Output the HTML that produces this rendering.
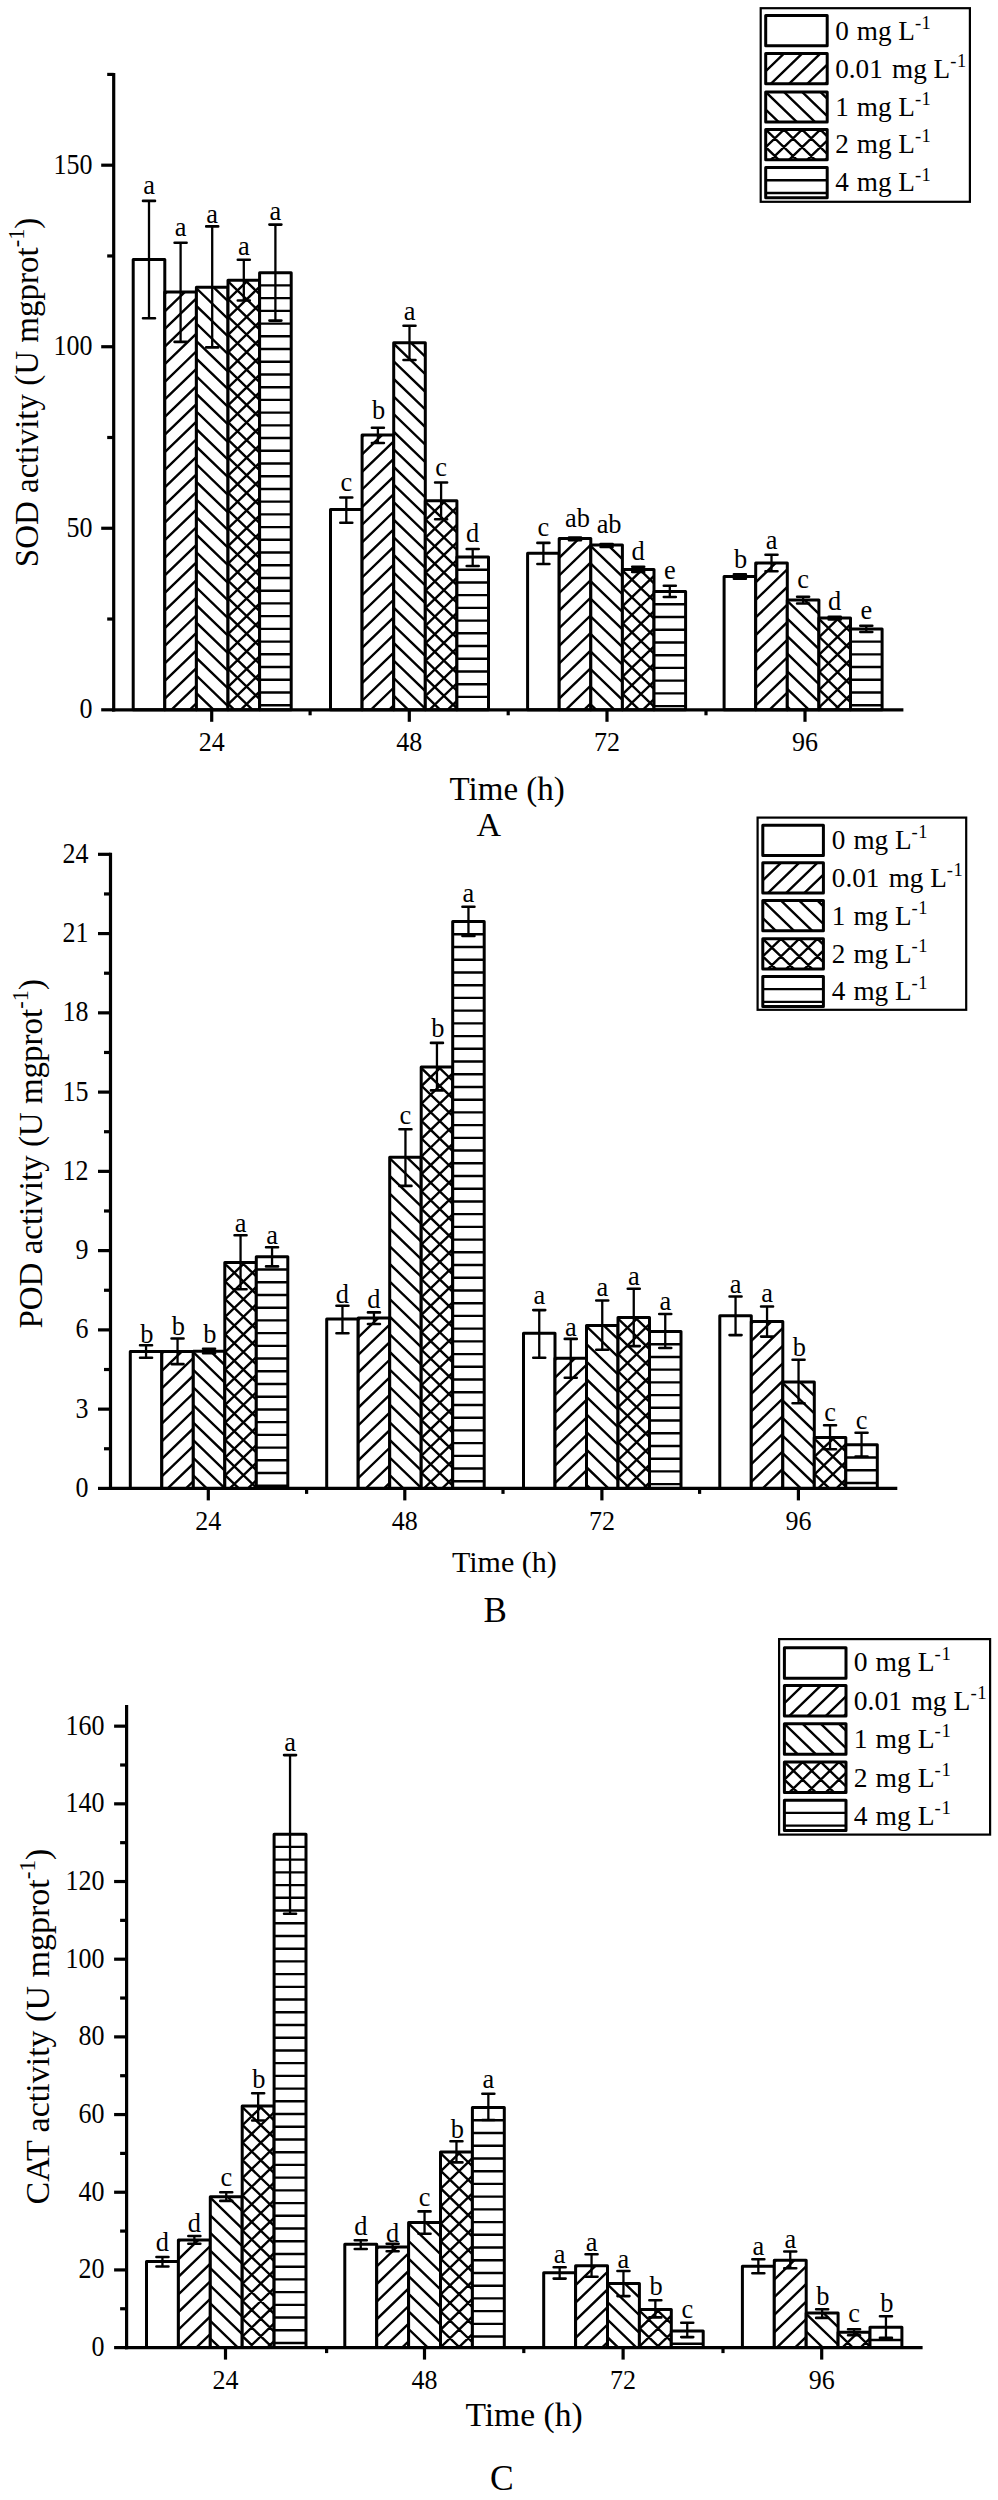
<!DOCTYPE html>
<html><head><meta charset="utf-8"><style>html,body{margin:0;padding:0;background:#fff;}svg{display:block;}</style></head>
<body><svg width="998" height="2500" viewBox="0 0 998 2500" font-family='"Liberation Serif", serif' fill="#000"><defs><clipPath id="c1"><rect x="164.80" y="292.00" width="31.60" height="417.80"/></clipPath><clipPath id="c2"><rect x="196.40" y="287.30" width="31.60" height="422.50"/></clipPath><clipPath id="c3"><rect x="228.00" y="280.30" width="31.60" height="429.50"/></clipPath><clipPath id="c4"><rect x="259.60" y="272.70" width="31.60" height="437.10"/></clipPath><clipPath id="c5"><rect x="362.10" y="434.90" width="31.60" height="274.90"/></clipPath><clipPath id="c6"><rect x="393.70" y="342.70" width="31.60" height="367.10"/></clipPath><clipPath id="c7"><rect x="425.30" y="500.80" width="31.60" height="209.00"/></clipPath><clipPath id="c8"><rect x="456.90" y="557.00" width="31.60" height="152.80"/></clipPath><clipPath id="c9"><rect x="559.20" y="538.40" width="31.60" height="171.40"/></clipPath><clipPath id="c10"><rect x="590.80" y="545.10" width="31.60" height="164.70"/></clipPath><clipPath id="c11"><rect x="622.40" y="569.40" width="31.60" height="140.40"/></clipPath><clipPath id="c12"><rect x="654.00" y="591.60" width="31.60" height="118.20"/></clipPath><clipPath id="c13"><rect x="755.70" y="562.90" width="31.60" height="146.90"/></clipPath><clipPath id="c14"><rect x="787.30" y="599.90" width="31.60" height="109.90"/></clipPath><clipPath id="c15"><rect x="818.90" y="617.90" width="31.60" height="91.90"/></clipPath><clipPath id="c16"><rect x="850.50" y="628.90" width="31.60" height="80.90"/></clipPath><clipPath id="c17"><rect x="765.70" y="53.60" width="61.50" height="30.10"/></clipPath><clipPath id="c18"><rect x="765.70" y="91.90" width="61.50" height="30.10"/></clipPath><clipPath id="c19"><rect x="765.70" y="129.60" width="61.50" height="30.10"/></clipPath><clipPath id="c20"><rect x="765.70" y="167.60" width="61.50" height="30.10"/></clipPath><clipPath id="c21"><rect x="161.80" y="1351.50" width="31.50" height="136.90"/></clipPath><clipPath id="c22"><rect x="193.30" y="1351.20" width="31.50" height="137.20"/></clipPath><clipPath id="c23"><rect x="224.80" y="1262.60" width="31.50" height="225.80"/></clipPath><clipPath id="c24"><rect x="256.30" y="1256.80" width="31.50" height="231.60"/></clipPath><clipPath id="c25"><rect x="358.20" y="1318.00" width="31.50" height="170.40"/></clipPath><clipPath id="c26"><rect x="389.70" y="1157.30" width="31.50" height="331.10"/></clipPath><clipPath id="c27"><rect x="421.20" y="1066.90" width="31.50" height="421.50"/></clipPath><clipPath id="c28"><rect x="452.70" y="921.60" width="31.50" height="566.80"/></clipPath><clipPath id="c29"><rect x="555.00" y="1358.20" width="31.50" height="130.20"/></clipPath><clipPath id="c30"><rect x="586.50" y="1325.40" width="31.50" height="163.00"/></clipPath><clipPath id="c31"><rect x="618.00" y="1317.60" width="31.50" height="170.80"/></clipPath><clipPath id="c32"><rect x="649.50" y="1331.50" width="31.50" height="156.90"/></clipPath><clipPath id="c33"><rect x="751.30" y="1321.60" width="31.50" height="166.80"/></clipPath><clipPath id="c34"><rect x="782.80" y="1382.00" width="31.50" height="106.40"/></clipPath><clipPath id="c35"><rect x="814.30" y="1437.60" width="31.50" height="50.80"/></clipPath><clipPath id="c36"><rect x="845.80" y="1444.80" width="31.50" height="43.60"/></clipPath><clipPath id="c37"><rect x="762.80" y="862.80" width="60.60" height="30.20"/></clipPath><clipPath id="c38"><rect x="762.80" y="900.60" width="60.60" height="30.20"/></clipPath><clipPath id="c39"><rect x="762.80" y="938.80" width="60.60" height="30.20"/></clipPath><clipPath id="c40"><rect x="762.80" y="976.40" width="60.60" height="30.20"/></clipPath><clipPath id="c41"><rect x="178.40" y="2239.90" width="31.90" height="107.70"/></clipPath><clipPath id="c42"><rect x="210.30" y="2196.70" width="31.90" height="150.90"/></clipPath><clipPath id="c43"><rect x="242.20" y="2106.10" width="31.90" height="241.50"/></clipPath><clipPath id="c44"><rect x="274.10" y="1834.20" width="31.90" height="513.40"/></clipPath><clipPath id="c45"><rect x="376.70" y="2247.10" width="31.90" height="100.50"/></clipPath><clipPath id="c46"><rect x="408.60" y="2222.40" width="31.90" height="125.20"/></clipPath><clipPath id="c47"><rect x="440.50" y="2152.00" width="31.90" height="195.60"/></clipPath><clipPath id="c48"><rect x="472.40" y="2107.60" width="31.90" height="240.00"/></clipPath><clipPath id="c49"><rect x="575.60" y="2265.70" width="31.90" height="81.90"/></clipPath><clipPath id="c50"><rect x="607.50" y="2283.40" width="31.90" height="64.20"/></clipPath><clipPath id="c51"><rect x="639.40" y="2309.50" width="31.90" height="38.10"/></clipPath><clipPath id="c52"><rect x="671.30" y="2331.00" width="31.90" height="16.60"/></clipPath><clipPath id="c53"><rect x="774.30" y="2260.20" width="31.90" height="87.40"/></clipPath><clipPath id="c54"><rect x="806.20" y="2312.90" width="31.90" height="34.70"/></clipPath><clipPath id="c55"><rect x="838.10" y="2332.30" width="31.90" height="15.30"/></clipPath><clipPath id="c56"><rect x="870.00" y="2327.30" width="31.90" height="20.30"/></clipPath><clipPath id="c57"><rect x="784.40" y="1685.60" width="61.60" height="30.40"/></clipPath><clipPath id="c58"><rect x="784.40" y="1723.80" width="61.60" height="30.40"/></clipPath><clipPath id="c59"><rect x="784.40" y="1762.00" width="61.60" height="30.40"/></clipPath><clipPath id="c60"><rect x="784.40" y="1800.20" width="61.60" height="30.40"/></clipPath></defs><rect width="998" height="2500" fill="white"/><rect x="133.20" y="259.50" width="31.60" height="450.30" fill="white"/><rect x="133.20" y="259.50" width="31.60" height="450.30" fill="none" stroke="#000" stroke-width="3.0" stroke-linejoin="round"/><rect x="164.80" y="292.00" width="31.60" height="417.80" fill="white"/><path clip-path="url(#c1)" d="M164.80 258.60L196.40 228.04M164.80 276.20L196.40 245.64M164.80 293.80L196.40 263.24M164.80 311.40L196.40 280.84M164.80 329.00L196.40 298.44M164.80 346.60L196.40 316.04M164.80 364.20L196.40 333.64M164.80 381.80L196.40 351.24M164.80 399.40L196.40 368.84M164.80 417.00L196.40 386.44M164.80 434.60L196.40 404.04M164.80 452.20L196.40 421.64M164.80 469.80L196.40 439.24M164.80 487.40L196.40 456.84M164.80 505.00L196.40 474.44M164.80 522.60L196.40 492.04M164.80 540.20L196.40 509.64M164.80 557.80L196.40 527.24M164.80 575.40L196.40 544.84M164.80 593.00L196.40 562.44M164.80 610.60L196.40 580.04M164.80 628.20L196.40 597.64M164.80 645.80L196.40 615.24M164.80 663.40L196.40 632.84M164.80 681.00L196.40 650.44M164.80 698.60L196.40 668.04M164.80 716.20L196.40 685.64M164.80 733.80L196.40 703.24M164.80 751.40L196.40 720.84M164.80 769.00L196.40 738.44" stroke="#000" stroke-width="2.4" fill="none"/><rect x="164.80" y="292.00" width="31.60" height="417.80" fill="none" stroke="#000" stroke-width="3.0" stroke-linejoin="round"/><rect x="196.40" y="287.30" width="31.60" height="422.50" fill="white"/><path clip-path="url(#c2)" d="M196.40 217.90L228.00 248.46M196.40 235.50L228.00 266.06M196.40 253.10L228.00 283.66M196.40 270.70L228.00 301.26M196.40 288.30L228.00 318.86M196.40 305.90L228.00 336.46M196.40 323.50L228.00 354.06M196.40 341.10L228.00 371.66M196.40 358.70L228.00 389.26M196.40 376.30L228.00 406.86M196.40 393.90L228.00 424.46M196.40 411.50L228.00 442.06M196.40 429.10L228.00 459.66M196.40 446.70L228.00 477.26M196.40 464.30L228.00 494.86M196.40 481.90L228.00 512.46M196.40 499.50L228.00 530.06M196.40 517.10L228.00 547.66M196.40 534.70L228.00 565.26M196.40 552.30L228.00 582.86M196.40 569.90L228.00 600.46M196.40 587.50L228.00 618.06M196.40 605.10L228.00 635.66M196.40 622.70L228.00 653.26M196.40 640.30L228.00 670.86M196.40 657.90L228.00 688.46M196.40 675.50L228.00 706.06M196.40 693.10L228.00 723.66M196.40 710.70L228.00 741.26M196.40 728.30L228.00 758.86M196.40 745.90L228.00 776.46" stroke="#000" stroke-width="2.4" fill="none"/><rect x="196.40" y="287.30" width="31.60" height="422.50" fill="none" stroke="#000" stroke-width="3.0" stroke-linejoin="round"/><rect x="228.00" y="280.30" width="31.60" height="429.50" fill="white"/><path clip-path="url(#c3)" d="M228.00 246.90L259.60 216.34M228.00 264.50L259.60 233.94M228.00 282.10L259.60 251.54M228.00 299.70L259.60 269.14M228.00 317.30L259.60 286.74M228.00 334.90L259.60 304.34M228.00 352.50L259.60 321.94M228.00 370.10L259.60 339.54M228.00 387.70L259.60 357.14M228.00 405.30L259.60 374.74M228.00 422.90L259.60 392.34M228.00 440.50L259.60 409.94M228.00 458.10L259.60 427.54M228.00 475.70L259.60 445.14M228.00 493.30L259.60 462.74M228.00 510.90L259.60 480.34M228.00 528.50L259.60 497.94M228.00 546.10L259.60 515.54M228.00 563.70L259.60 533.14M228.00 581.30L259.60 550.74M228.00 598.90L259.60 568.34M228.00 616.50L259.60 585.94M228.00 634.10L259.60 603.54M228.00 651.70L259.60 621.14M228.00 669.30L259.60 638.74M228.00 686.90L259.60 656.34M228.00 704.50L259.60 673.94M228.00 722.10L259.60 691.54M228.00 739.70L259.60 709.14M228.00 757.30L259.60 726.74M228.00 774.90L259.60 744.34M228.00 210.90L259.60 241.46M228.00 228.50L259.60 259.06M228.00 246.10L259.60 276.66M228.00 263.70L259.60 294.26M228.00 281.30L259.60 311.86M228.00 298.90L259.60 329.46M228.00 316.50L259.60 347.06M228.00 334.10L259.60 364.66M228.00 351.70L259.60 382.26M228.00 369.30L259.60 399.86M228.00 386.90L259.60 417.46M228.00 404.50L259.60 435.06M228.00 422.10L259.60 452.66M228.00 439.70L259.60 470.26M228.00 457.30L259.60 487.86M228.00 474.90L259.60 505.46M228.00 492.50L259.60 523.06M228.00 510.10L259.60 540.66M228.00 527.70L259.60 558.26M228.00 545.30L259.60 575.86M228.00 562.90L259.60 593.46M228.00 580.50L259.60 611.06M228.00 598.10L259.60 628.66M228.00 615.70L259.60 646.26M228.00 633.30L259.60 663.86M228.00 650.90L259.60 681.46M228.00 668.50L259.60 699.06M228.00 686.10L259.60 716.66M228.00 703.70L259.60 734.26M228.00 721.30L259.60 751.86M228.00 738.90L259.60 769.46" stroke="#000" stroke-width="2.4" fill="none"/><rect x="228.00" y="280.30" width="31.60" height="429.50" fill="none" stroke="#000" stroke-width="3.0" stroke-linejoin="round"/><rect x="259.60" y="272.70" width="31.60" height="437.10" fill="white"/><path clip-path="url(#c4)" d="M259.60 285.42H291.20M259.60 298.14H291.20M259.60 310.86H291.20M259.60 323.58H291.20M259.60 336.30H291.20M259.60 349.02H291.20M259.60 361.74H291.20M259.60 374.46H291.20M259.60 387.18H291.20M259.60 399.90H291.20M259.60 412.62H291.20M259.60 425.34H291.20M259.60 438.06H291.20M259.60 450.78H291.20M259.60 463.50H291.20M259.60 476.22H291.20M259.60 488.94H291.20M259.60 501.66H291.20M259.60 514.38H291.20M259.60 527.10H291.20M259.60 539.82H291.20M259.60 552.54H291.20M259.60 565.26H291.20M259.60 577.98H291.20M259.60 590.70H291.20M259.60 603.42H291.20M259.60 616.14H291.20M259.60 628.86H291.20M259.60 641.58H291.20M259.60 654.30H291.20M259.60 667.02H291.20M259.60 679.74H291.20M259.60 692.46H291.20M259.60 705.18H291.20M259.60 717.90H291.20" stroke="#000" stroke-width="2.4" fill="none"/><rect x="259.60" y="272.70" width="31.60" height="437.10" fill="none" stroke="#000" stroke-width="3.0" stroke-linejoin="round"/><path d="M149.00 200.90V318.30" stroke="#000" stroke-width="2.3"/><path d="M143.00 200.90H155.00M143.00 318.30H155.00" stroke="#000" stroke-width="2.6" stroke-linecap="round"/><text transform="translate(149.00 194.00) scale(1.015 1.075)" font-size="26" text-anchor="middle" >a</text><path d="M180.60 242.70V341.90" stroke="#000" stroke-width="2.3"/><path d="M174.60 242.70H186.60M174.60 341.90H186.60" stroke="#000" stroke-width="2.6" stroke-linecap="round"/><text transform="translate(180.60 236.40) scale(1.015 1.075)" font-size="26" text-anchor="middle" >a</text><path d="M212.20 226.40V347.40" stroke="#000" stroke-width="2.3"/><path d="M206.20 226.40H218.20M206.20 347.40H218.20" stroke="#000" stroke-width="2.6" stroke-linecap="round"/><text transform="translate(212.20 222.60) scale(1.015 1.075)" font-size="26" text-anchor="middle" >a</text><path d="M243.80 259.70V300.50" stroke="#000" stroke-width="2.3"/><path d="M237.80 259.70H249.80M237.80 300.50H249.80" stroke="#000" stroke-width="2.6" stroke-linecap="round"/><text transform="translate(243.80 255.20) scale(1.015 1.075)" font-size="26" text-anchor="middle" >a</text><path d="M275.40 224.60V320.60" stroke="#000" stroke-width="2.3"/><path d="M269.40 224.60H281.40M269.40 320.60H281.40" stroke="#000" stroke-width="2.6" stroke-linecap="round"/><text transform="translate(275.40 220.10) scale(1.015 1.075)" font-size="26" text-anchor="middle" >a</text><rect x="330.50" y="509.60" width="31.60" height="200.20" fill="white"/><rect x="330.50" y="509.60" width="31.60" height="200.20" fill="none" stroke="#000" stroke-width="3.0" stroke-linejoin="round"/><rect x="362.10" y="434.90" width="31.60" height="274.90" fill="white"/><path clip-path="url(#c5)" d="M362.10 401.50L393.70 370.94M362.10 419.10L393.70 388.54M362.10 436.70L393.70 406.14M362.10 454.30L393.70 423.74M362.10 471.90L393.70 441.34M362.10 489.50L393.70 458.94M362.10 507.10L393.70 476.54M362.10 524.70L393.70 494.14M362.10 542.30L393.70 511.74M362.10 559.90L393.70 529.34M362.10 577.50L393.70 546.94M362.10 595.10L393.70 564.54M362.10 612.70L393.70 582.14M362.10 630.30L393.70 599.74M362.10 647.90L393.70 617.34M362.10 665.50L393.70 634.94M362.10 683.10L393.70 652.54M362.10 700.70L393.70 670.14M362.10 718.30L393.70 687.74M362.10 735.90L393.70 705.34M362.10 753.50L393.70 722.94M362.10 771.10L393.70 740.54" stroke="#000" stroke-width="2.4" fill="none"/><rect x="362.10" y="434.90" width="31.60" height="274.90" fill="none" stroke="#000" stroke-width="3.0" stroke-linejoin="round"/><rect x="393.70" y="342.70" width="31.60" height="367.10" fill="white"/><path clip-path="url(#c6)" d="M393.70 273.30L425.30 303.86M393.70 290.90L425.30 321.46M393.70 308.50L425.30 339.06M393.70 326.10L425.30 356.66M393.70 343.70L425.30 374.26M393.70 361.30L425.30 391.86M393.70 378.90L425.30 409.46M393.70 396.50L425.30 427.06M393.70 414.10L425.30 444.66M393.70 431.70L425.30 462.26M393.70 449.30L425.30 479.86M393.70 466.90L425.30 497.46M393.70 484.50L425.30 515.06M393.70 502.10L425.30 532.66M393.70 519.70L425.30 550.26M393.70 537.30L425.30 567.86M393.70 554.90L425.30 585.46M393.70 572.50L425.30 603.06M393.70 590.10L425.30 620.66M393.70 607.70L425.30 638.26M393.70 625.30L425.30 655.86M393.70 642.90L425.30 673.46M393.70 660.50L425.30 691.06M393.70 678.10L425.30 708.66M393.70 695.70L425.30 726.26M393.70 713.30L425.30 743.86M393.70 730.90L425.30 761.46" stroke="#000" stroke-width="2.4" fill="none"/><rect x="393.70" y="342.70" width="31.60" height="367.10" fill="none" stroke="#000" stroke-width="3.0" stroke-linejoin="round"/><rect x="425.30" y="500.80" width="31.60" height="209.00" fill="white"/><path clip-path="url(#c7)" d="M425.30 467.40L456.90 436.84M425.30 485.00L456.90 454.44M425.30 502.60L456.90 472.04M425.30 520.20L456.90 489.64M425.30 537.80L456.90 507.24M425.30 555.40L456.90 524.84M425.30 573.00L456.90 542.44M425.30 590.60L456.90 560.04M425.30 608.20L456.90 577.64M425.30 625.80L456.90 595.24M425.30 643.40L456.90 612.84M425.30 661.00L456.90 630.44M425.30 678.60L456.90 648.04M425.30 696.20L456.90 665.64M425.30 713.80L456.90 683.24M425.30 731.40L456.90 700.84M425.30 749.00L456.90 718.44M425.30 766.60L456.90 736.04M425.30 431.40L456.90 461.96M425.30 449.00L456.90 479.56M425.30 466.60L456.90 497.16M425.30 484.20L456.90 514.76M425.30 501.80L456.90 532.36M425.30 519.40L456.90 549.96M425.30 537.00L456.90 567.56M425.30 554.60L456.90 585.16M425.30 572.20L456.90 602.76M425.30 589.80L456.90 620.36M425.30 607.40L456.90 637.96M425.30 625.00L456.90 655.56M425.30 642.60L456.90 673.16M425.30 660.20L456.90 690.76M425.30 677.80L456.90 708.36M425.30 695.40L456.90 725.96M425.30 713.00L456.90 743.56M425.30 730.60L456.90 761.16" stroke="#000" stroke-width="2.4" fill="none"/><rect x="425.30" y="500.80" width="31.60" height="209.00" fill="none" stroke="#000" stroke-width="3.0" stroke-linejoin="round"/><rect x="456.90" y="557.00" width="31.60" height="152.80" fill="white"/><path clip-path="url(#c8)" d="M456.90 569.72H488.50M456.90 582.44H488.50M456.90 595.16H488.50M456.90 607.88H488.50M456.90 620.60H488.50M456.90 633.32H488.50M456.90 646.04H488.50M456.90 658.76H488.50M456.90 671.48H488.50M456.90 684.20H488.50M456.90 696.92H488.50M456.90 709.64H488.50M456.90 722.36H488.50" stroke="#000" stroke-width="2.4" fill="none"/><rect x="456.90" y="557.00" width="31.60" height="152.80" fill="none" stroke="#000" stroke-width="3.0" stroke-linejoin="round"/><path d="M346.30 497.50V522.80" stroke="#000" stroke-width="2.3"/><path d="M340.30 497.50H352.30M340.30 522.80H352.30" stroke="#000" stroke-width="2.6" stroke-linecap="round"/><text transform="translate(346.30 491.20) scale(1.015 1.075)" font-size="26" text-anchor="middle" >c</text><path d="M377.90 427.70V443.00" stroke="#000" stroke-width="2.3"/><path d="M371.90 427.70H383.90M371.90 443.00H383.90" stroke="#000" stroke-width="2.6" stroke-linecap="round"/><text transform="translate(378.70 419.00) scale(1.015 1.075)" font-size="26" text-anchor="middle" >b</text><path d="M409.50 325.80V360.00" stroke="#000" stroke-width="2.3"/><path d="M403.50 325.80H415.50M403.50 360.00H415.50" stroke="#000" stroke-width="2.6" stroke-linecap="round"/><text transform="translate(409.50 320.00) scale(1.015 1.075)" font-size="26" text-anchor="middle" >a</text><path d="M441.10 482.50V519.20" stroke="#000" stroke-width="2.3"/><path d="M435.10 482.50H447.10M435.10 519.20H447.10" stroke="#000" stroke-width="2.6" stroke-linecap="round"/><text transform="translate(441.10 476.00) scale(1.015 1.075)" font-size="26" text-anchor="middle" >c</text><path d="M472.70 549.00V566.00" stroke="#000" stroke-width="2.3"/><path d="M466.70 549.00H478.70M466.70 566.00H478.70" stroke="#000" stroke-width="2.6" stroke-linecap="round"/><text transform="translate(472.70 541.70) scale(1.015 1.075)" font-size="26" text-anchor="middle" >d</text><rect x="527.60" y="553.20" width="31.60" height="156.60" fill="white"/><rect x="527.60" y="553.20" width="31.60" height="156.60" fill="none" stroke="#000" stroke-width="3.0" stroke-linejoin="round"/><rect x="559.20" y="538.40" width="31.60" height="171.40" fill="white"/><path clip-path="url(#c9)" d="M559.20 505.00L590.80 474.44M559.20 522.60L590.80 492.04M559.20 540.20L590.80 509.64M559.20 557.80L590.80 527.24M559.20 575.40L590.80 544.84M559.20 593.00L590.80 562.44M559.20 610.60L590.80 580.04M559.20 628.20L590.80 597.64M559.20 645.80L590.80 615.24M559.20 663.40L590.80 632.84M559.20 681.00L590.80 650.44M559.20 698.60L590.80 668.04M559.20 716.20L590.80 685.64M559.20 733.80L590.80 703.24M559.20 751.40L590.80 720.84M559.20 769.00L590.80 738.44" stroke="#000" stroke-width="2.4" fill="none"/><rect x="559.20" y="538.40" width="31.60" height="171.40" fill="none" stroke="#000" stroke-width="3.0" stroke-linejoin="round"/><rect x="590.80" y="545.10" width="31.60" height="164.70" fill="white"/><path clip-path="url(#c10)" d="M590.80 475.70L622.40 506.26M590.80 493.30L622.40 523.86M590.80 510.90L622.40 541.46M590.80 528.50L622.40 559.06M590.80 546.10L622.40 576.66M590.80 563.70L622.40 594.26M590.80 581.30L622.40 611.86M590.80 598.90L622.40 629.46M590.80 616.50L622.40 647.06M590.80 634.10L622.40 664.66M590.80 651.70L622.40 682.26M590.80 669.30L622.40 699.86M590.80 686.90L622.40 717.46M590.80 704.50L622.40 735.06M590.80 722.10L622.40 752.66M590.80 739.70L622.40 770.26" stroke="#000" stroke-width="2.4" fill="none"/><rect x="590.80" y="545.10" width="31.60" height="164.70" fill="none" stroke="#000" stroke-width="3.0" stroke-linejoin="round"/><rect x="622.40" y="569.40" width="31.60" height="140.40" fill="white"/><path clip-path="url(#c11)" d="M622.40 536.00L654.00 505.44M622.40 553.60L654.00 523.04M622.40 571.20L654.00 540.64M622.40 588.80L654.00 558.24M622.40 606.40L654.00 575.84M622.40 624.00L654.00 593.44M622.40 641.60L654.00 611.04M622.40 659.20L654.00 628.64M622.40 676.80L654.00 646.24M622.40 694.40L654.00 663.84M622.40 712.00L654.00 681.44M622.40 729.60L654.00 699.04M622.40 747.20L654.00 716.64M622.40 764.80L654.00 734.24M622.40 500.00L654.00 530.56M622.40 517.60L654.00 548.16M622.40 535.20L654.00 565.76M622.40 552.80L654.00 583.36M622.40 570.40L654.00 600.96M622.40 588.00L654.00 618.56M622.40 605.60L654.00 636.16M622.40 623.20L654.00 653.76M622.40 640.80L654.00 671.36M622.40 658.40L654.00 688.96M622.40 676.00L654.00 706.56M622.40 693.60L654.00 724.16M622.40 711.20L654.00 741.76M622.40 728.80L654.00 759.36" stroke="#000" stroke-width="2.4" fill="none"/><rect x="622.40" y="569.40" width="31.60" height="140.40" fill="none" stroke="#000" stroke-width="3.0" stroke-linejoin="round"/><rect x="654.00" y="591.60" width="31.60" height="118.20" fill="white"/><path clip-path="url(#c12)" d="M654.00 604.32H685.60M654.00 617.04H685.60M654.00 629.76H685.60M654.00 642.48H685.60M654.00 655.20H685.60M654.00 667.92H685.60M654.00 680.64H685.60M654.00 693.36H685.60M654.00 706.08H685.60M654.00 718.80H685.60" stroke="#000" stroke-width="2.4" fill="none"/><rect x="654.00" y="591.60" width="31.60" height="118.20" fill="none" stroke="#000" stroke-width="3.0" stroke-linejoin="round"/><path d="M543.40 542.90V564.00" stroke="#000" stroke-width="2.3"/><path d="M537.40 542.90H549.40M537.40 564.00H549.40" stroke="#000" stroke-width="2.6" stroke-linecap="round"/><text transform="translate(543.40 536.00) scale(1.015 1.075)" font-size="26" text-anchor="middle" >c</text><path d="M575.00 537.60V540.20" stroke="#000" stroke-width="2.3"/><path d="M569.00 537.60H581.00M569.00 540.20H581.00" stroke="#000" stroke-width="2.6" stroke-linecap="round"/><text transform="translate(577.50 527.00) scale(1.015 1.075)" font-size="26" text-anchor="middle" >ab</text><path d="M606.60 544.00V547.00" stroke="#000" stroke-width="2.3"/><path d="M600.60 544.00H612.60M600.60 547.00H612.60" stroke="#000" stroke-width="2.6" stroke-linecap="round"/><text transform="translate(609.10 532.50) scale(1.015 1.075)" font-size="26" text-anchor="middle" >ab</text><path d="M638.20 566.70V572.00" stroke="#000" stroke-width="2.3"/><path d="M632.20 566.70H644.20M632.20 572.00H644.20" stroke="#000" stroke-width="2.6" stroke-linecap="round"/><text transform="translate(638.20 559.50) scale(1.015 1.075)" font-size="26" text-anchor="middle" >d</text><path d="M669.80 585.70V597.00" stroke="#000" stroke-width="2.3"/><path d="M663.80 585.70H675.80M663.80 597.00H675.80" stroke="#000" stroke-width="2.6" stroke-linecap="round"/><text transform="translate(669.80 579.40) scale(1.015 1.075)" font-size="26" text-anchor="middle" >e</text><rect x="724.10" y="576.60" width="31.60" height="133.20" fill="white"/><rect x="724.10" y="576.60" width="31.60" height="133.20" fill="none" stroke="#000" stroke-width="3.0" stroke-linejoin="round"/><rect x="755.70" y="562.90" width="31.60" height="146.90" fill="white"/><path clip-path="url(#c13)" d="M755.70 529.50L787.30 498.94M755.70 547.10L787.30 516.54M755.70 564.70L787.30 534.14M755.70 582.30L787.30 551.74M755.70 599.90L787.30 569.34M755.70 617.50L787.30 586.94M755.70 635.10L787.30 604.54M755.70 652.70L787.30 622.14M755.70 670.30L787.30 639.74M755.70 687.90L787.30 657.34M755.70 705.50L787.30 674.94M755.70 723.10L787.30 692.54M755.70 740.70L787.30 710.14M755.70 758.30L787.30 727.74M755.70 775.90L787.30 745.34" stroke="#000" stroke-width="2.4" fill="none"/><rect x="755.70" y="562.90" width="31.60" height="146.90" fill="none" stroke="#000" stroke-width="3.0" stroke-linejoin="round"/><rect x="787.30" y="599.90" width="31.60" height="109.90" fill="white"/><path clip-path="url(#c14)" d="M787.30 530.50L818.90 561.06M787.30 548.10L818.90 578.66M787.30 565.70L818.90 596.26M787.30 583.30L818.90 613.86M787.30 600.90L818.90 631.46M787.30 618.50L818.90 649.06M787.30 636.10L818.90 666.66M787.30 653.70L818.90 684.26M787.30 671.30L818.90 701.86M787.30 688.90L818.90 719.46M787.30 706.50L818.90 737.06M787.30 724.10L818.90 754.66M787.30 741.70L818.90 772.26" stroke="#000" stroke-width="2.4" fill="none"/><rect x="787.30" y="599.90" width="31.60" height="109.90" fill="none" stroke="#000" stroke-width="3.0" stroke-linejoin="round"/><rect x="818.90" y="617.90" width="31.60" height="91.90" fill="white"/><path clip-path="url(#c15)" d="M818.90 584.50L850.50 553.94M818.90 602.10L850.50 571.54M818.90 619.70L850.50 589.14M818.90 637.30L850.50 606.74M818.90 654.90L850.50 624.34M818.90 672.50L850.50 641.94M818.90 690.10L850.50 659.54M818.90 707.70L850.50 677.14M818.90 725.30L850.50 694.74M818.90 742.90L850.50 712.34M818.90 760.50L850.50 729.94M818.90 548.50L850.50 579.06M818.90 566.10L850.50 596.66M818.90 583.70L850.50 614.26M818.90 601.30L850.50 631.86M818.90 618.90L850.50 649.46M818.90 636.50L850.50 667.06M818.90 654.10L850.50 684.66M818.90 671.70L850.50 702.26M818.90 689.30L850.50 719.86M818.90 706.90L850.50 737.46M818.90 724.50L850.50 755.06M818.90 742.10L850.50 772.66" stroke="#000" stroke-width="2.4" fill="none"/><rect x="818.90" y="617.90" width="31.60" height="91.90" fill="none" stroke="#000" stroke-width="3.0" stroke-linejoin="round"/><rect x="850.50" y="628.90" width="31.60" height="80.90" fill="white"/><path clip-path="url(#c16)" d="M850.50 641.62H882.10M850.50 654.34H882.10M850.50 667.06H882.10M850.50 679.78H882.10M850.50 692.50H882.10M850.50 705.22H882.10M850.50 717.94H882.10" stroke="#000" stroke-width="2.4" fill="none"/><rect x="850.50" y="628.90" width="31.60" height="80.90" fill="none" stroke="#000" stroke-width="3.0" stroke-linejoin="round"/><path d="M739.90 574.30V578.80" stroke="#000" stroke-width="2.3"/><path d="M733.90 574.30H745.90M733.90 578.80H745.90" stroke="#000" stroke-width="2.6" stroke-linecap="round"/><text transform="translate(740.70 568.00) scale(1.015 1.075)" font-size="26" text-anchor="middle" >b</text><path d="M771.50 554.80V571.20" stroke="#000" stroke-width="2.3"/><path d="M765.50 554.80H777.50M765.50 571.20H777.50" stroke="#000" stroke-width="2.6" stroke-linecap="round"/><text transform="translate(771.50 549.00) scale(1.015 1.075)" font-size="26" text-anchor="middle" >a</text><path d="M803.10 596.80V603.50" stroke="#000" stroke-width="2.3"/><path d="M797.10 596.80H809.10M797.10 603.50H809.10" stroke="#000" stroke-width="2.6" stroke-linecap="round"/><text transform="translate(803.10 587.80) scale(1.015 1.075)" font-size="26" text-anchor="middle" >c</text><path d="M834.70 616.70V619.40" stroke="#000" stroke-width="2.3"/><path d="M828.70 616.70H840.70M828.70 619.40H840.70" stroke="#000" stroke-width="2.6" stroke-linecap="round"/><text transform="translate(834.70 610.30) scale(1.015 1.075)" font-size="26" text-anchor="middle" >d</text><path d="M866.30 625.70V632.00" stroke="#000" stroke-width="2.3"/><path d="M860.30 625.70H872.30M860.30 632.00H872.30" stroke="#000" stroke-width="2.6" stroke-linecap="round"/><text transform="translate(866.30 618.50) scale(1.015 1.075)" font-size="26" text-anchor="middle" >e</text><path d="M113.70 72.90V711.40" stroke="#000" stroke-width="3.2"/><path d="M112.10 709.80H903.40" stroke="#000" stroke-width="3.2"/><path d="M101.20 709.80H113.70" stroke="#000" stroke-width="3.2"/><text transform="translate(92.60 718.20) scale(1 1.11)" font-size="26" text-anchor="end" >0</text><path d="M107.20 619.03H113.70" stroke="#000" stroke-width="3.2"/><path d="M101.20 528.26H113.70" stroke="#000" stroke-width="3.2"/><text transform="translate(92.60 536.66) scale(1 1.11)" font-size="26" text-anchor="end" >50</text><path d="M107.20 437.50H113.70" stroke="#000" stroke-width="3.2"/><path d="M101.20 346.73H113.70" stroke="#000" stroke-width="3.2"/><text transform="translate(92.60 355.13) scale(1 1.11)" font-size="26" text-anchor="end" >100</text><path d="M107.20 255.96H113.70" stroke="#000" stroke-width="3.2"/><path d="M101.20 165.19H113.70" stroke="#000" stroke-width="3.2"/><text transform="translate(92.60 173.59) scale(1 1.11)" font-size="26" text-anchor="end" >150</text><path d="M107.20 74.43H113.70" stroke="#000" stroke-width="3.2"/><path d="M211.70 709.80V721.80" stroke="#000" stroke-width="3.2"/><path d="M409.30 709.80V721.80" stroke="#000" stroke-width="3.2"/><path d="M607.00 709.80V721.80" stroke="#000" stroke-width="3.2"/><path d="M805.00 709.80V721.80" stroke="#000" stroke-width="3.2"/><path d="M310.10 709.80V715.30" stroke="#000" stroke-width="3.2"/><path d="M508.20 709.80V715.30" stroke="#000" stroke-width="3.2"/><path d="M706.00 709.80V715.30" stroke="#000" stroke-width="3.2"/><text transform="translate(211.70 751.20) scale(1 1.08)" font-size="26" text-anchor="middle" >24</text><text transform="translate(409.30 751.20) scale(1 1.08)" font-size="26" text-anchor="middle" >48</text><text transform="translate(607.00 751.20) scale(1 1.08)" font-size="26" text-anchor="middle" >72</text><text transform="translate(805.00 751.20) scale(1 1.08)" font-size="26" text-anchor="middle" >96</text><text x="449.60" y="799.60" font-size="33" text-anchor="start" >Time (h)</text><text x="476.40" y="836.00" font-size="34" text-anchor="start" >A</text><text transform="translate(38.20 567.20) rotate(-90)" font-size="33">SOD activity (U mgprot<tspan font-size="22.4" dy="-13.9">-1</tspan><tspan dy="13.9">)</tspan></text><rect x="760.70" y="8.20" width="209.20" height="193.60" fill="white" stroke="#000" stroke-width="2.2"/><rect x="765.70" y="15.60" width="61.50" height="30.10" fill="white"/><rect x="765.70" y="15.60" width="61.50" height="30.10" fill="none" stroke="#000" stroke-width="3.0" stroke-linejoin="round"/><text x="835.20" y="39.80" font-size="27.2">0<tspan dx="1.2"> mg L</tspan><tspan font-size="18.5" dx="0" dy="-10.9">-<tspan dx="0.5">1</tspan></tspan></text><rect x="765.70" y="53.60" width="61.50" height="30.10" fill="white"/><path clip-path="url(#c17)" d="M765.70 18.40L827.20 -41.07M765.70 36.00L827.20 -23.47M765.70 53.60L827.20 -5.87M765.70 71.20L827.20 11.73M765.70 88.80L827.20 29.33M765.70 106.40L827.20 46.93M765.70 124.00L827.20 64.53M765.70 141.60L827.20 82.13M765.70 159.20L827.20 99.73M765.70 176.80L827.20 117.33" stroke="#000" stroke-width="2.4" fill="none"/><rect x="765.70" y="53.60" width="61.50" height="30.10" fill="none" stroke="#000" stroke-width="3.0" stroke-linejoin="round"/><text x="835.20" y="77.50" font-size="27.2">0.01<tspan dx="2.5"> mg L</tspan><tspan font-size="18.5" dx="0" dy="-10.9">-<tspan dx="0.5">1</tspan></tspan></text><rect x="765.70" y="91.90" width="61.50" height="30.10" fill="white"/><path clip-path="url(#c18)" d="M765.70 -13.70L827.20 45.77M765.70 3.90L827.20 63.37M765.70 21.50L827.20 80.97M765.70 39.10L827.20 98.57M765.70 56.70L827.20 116.17M765.70 74.30L827.20 133.77M765.70 91.90L827.20 151.37M765.70 109.50L827.20 168.97M765.70 127.10L827.20 186.57M765.70 144.70L827.20 204.17" stroke="#000" stroke-width="2.4" fill="none"/><rect x="765.70" y="91.90" width="61.50" height="30.10" fill="none" stroke="#000" stroke-width="3.0" stroke-linejoin="round"/><text x="835.20" y="115.60" font-size="27.2">1<tspan dx="1.2"> mg L</tspan><tspan font-size="18.5" dx="0" dy="-10.9">-<tspan dx="0.5">1</tspan></tspan></text><rect x="765.70" y="129.60" width="61.50" height="30.10" fill="white"/><path clip-path="url(#c19)" d="M765.70 94.40L827.20 34.93M765.70 112.00L827.20 52.53M765.70 129.60L827.20 70.13M765.70 147.20L827.20 87.73M765.70 164.80L827.20 105.33M765.70 182.40L827.20 122.93M765.70 200.00L827.20 140.53M765.70 217.60L827.20 158.13M765.70 235.20L827.20 175.73M765.70 252.80L827.20 193.33M765.70 24.00L827.20 83.47M765.70 41.60L827.20 101.07M765.70 59.20L827.20 118.67M765.70 76.80L827.20 136.27M765.70 94.40L827.20 153.87M765.70 112.00L827.20 171.47M765.70 129.60L827.20 189.07M765.70 147.20L827.20 206.67M765.70 164.80L827.20 224.27M765.70 182.40L827.20 241.87" stroke="#000" stroke-width="2.4" fill="none"/><rect x="765.70" y="129.60" width="61.50" height="30.10" fill="none" stroke="#000" stroke-width="3.0" stroke-linejoin="round"/><text x="835.20" y="152.80" font-size="27.2">2<tspan dx="1.2"> mg L</tspan><tspan font-size="18.5" dx="0" dy="-10.9">-<tspan dx="0.5">1</tspan></tspan></text><rect x="765.70" y="167.60" width="61.50" height="30.10" fill="white"/><path clip-path="url(#c20)" d="M765.70 180.32H827.20M765.70 193.04H827.20M765.70 205.76H827.20" stroke="#000" stroke-width="2.4" fill="none"/><rect x="765.70" y="167.60" width="61.50" height="30.10" fill="none" stroke="#000" stroke-width="3.0" stroke-linejoin="round"/><text x="835.20" y="191.40" font-size="27.2">4<tspan dx="1.2"> mg L</tspan><tspan font-size="18.5" dx="0" dy="-10.9">-<tspan dx="0.5">1</tspan></tspan></text><rect x="130.30" y="1351.50" width="31.50" height="136.90" fill="white"/><rect x="130.30" y="1351.50" width="31.50" height="136.90" fill="none" stroke="#000" stroke-width="3.0" stroke-linejoin="round"/><rect x="161.80" y="1351.50" width="31.50" height="136.90" fill="white"/><path clip-path="url(#c21)" d="M161.80 1318.10L193.30 1287.64M161.80 1335.70L193.30 1305.24M161.80 1353.30L193.30 1322.84M161.80 1370.90L193.30 1340.44M161.80 1388.50L193.30 1358.04M161.80 1406.10L193.30 1375.64M161.80 1423.70L193.30 1393.24M161.80 1441.30L193.30 1410.84M161.80 1458.90L193.30 1428.44M161.80 1476.50L193.30 1446.04M161.80 1494.10L193.30 1463.64M161.80 1511.70L193.30 1481.24M161.80 1529.30L193.30 1498.84M161.80 1546.90L193.30 1516.44" stroke="#000" stroke-width="2.4" fill="none"/><rect x="161.80" y="1351.50" width="31.50" height="136.90" fill="none" stroke="#000" stroke-width="3.0" stroke-linejoin="round"/><rect x="193.30" y="1351.20" width="31.50" height="137.20" fill="white"/><path clip-path="url(#c22)" d="M193.30 1281.80L224.80 1312.26M193.30 1299.40L224.80 1329.86M193.30 1317.00L224.80 1347.46M193.30 1334.60L224.80 1365.06M193.30 1352.20L224.80 1382.66M193.30 1369.80L224.80 1400.26M193.30 1387.40L224.80 1417.86M193.30 1405.00L224.80 1435.46M193.30 1422.60L224.80 1453.06M193.30 1440.20L224.80 1470.66M193.30 1457.80L224.80 1488.26M193.30 1475.40L224.80 1505.86M193.30 1493.00L224.80 1523.46M193.30 1510.60L224.80 1541.06" stroke="#000" stroke-width="2.4" fill="none"/><rect x="193.30" y="1351.20" width="31.50" height="137.20" fill="none" stroke="#000" stroke-width="3.0" stroke-linejoin="round"/><rect x="224.80" y="1262.60" width="31.50" height="225.80" fill="white"/><path clip-path="url(#c23)" d="M224.80 1229.20L256.30 1198.74M224.80 1246.80L256.30 1216.34M224.80 1264.40L256.30 1233.94M224.80 1282.00L256.30 1251.54M224.80 1299.60L256.30 1269.14M224.80 1317.20L256.30 1286.74M224.80 1334.80L256.30 1304.34M224.80 1352.40L256.30 1321.94M224.80 1370.00L256.30 1339.54M224.80 1387.60L256.30 1357.14M224.80 1405.20L256.30 1374.74M224.80 1422.80L256.30 1392.34M224.80 1440.40L256.30 1409.94M224.80 1458.00L256.30 1427.54M224.80 1475.60L256.30 1445.14M224.80 1493.20L256.30 1462.74M224.80 1510.80L256.30 1480.34M224.80 1528.40L256.30 1497.94M224.80 1546.00L256.30 1515.54M224.80 1193.20L256.30 1223.66M224.80 1210.80L256.30 1241.26M224.80 1228.40L256.30 1258.86M224.80 1246.00L256.30 1276.46M224.80 1263.60L256.30 1294.06M224.80 1281.20L256.30 1311.66M224.80 1298.80L256.30 1329.26M224.80 1316.40L256.30 1346.86M224.80 1334.00L256.30 1364.46M224.80 1351.60L256.30 1382.06M224.80 1369.20L256.30 1399.66M224.80 1386.80L256.30 1417.26M224.80 1404.40L256.30 1434.86M224.80 1422.00L256.30 1452.46M224.80 1439.60L256.30 1470.06M224.80 1457.20L256.30 1487.66M224.80 1474.80L256.30 1505.26M224.80 1492.40L256.30 1522.86M224.80 1510.00L256.30 1540.46" stroke="#000" stroke-width="2.4" fill="none"/><rect x="224.80" y="1262.60" width="31.50" height="225.80" fill="none" stroke="#000" stroke-width="3.0" stroke-linejoin="round"/><rect x="256.30" y="1256.80" width="31.50" height="231.60" fill="white"/><path clip-path="url(#c24)" d="M256.30 1269.52H287.80M256.30 1282.24H287.80M256.30 1294.96H287.80M256.30 1307.68H287.80M256.30 1320.40H287.80M256.30 1333.12H287.80M256.30 1345.84H287.80M256.30 1358.56H287.80M256.30 1371.28H287.80M256.30 1384.00H287.80M256.30 1396.72H287.80M256.30 1409.44H287.80M256.30 1422.16H287.80M256.30 1434.88H287.80M256.30 1447.60H287.80M256.30 1460.32H287.80M256.30 1473.04H287.80M256.30 1485.76H287.80M256.30 1498.48H287.80" stroke="#000" stroke-width="2.4" fill="none"/><rect x="256.30" y="1256.80" width="31.50" height="231.60" fill="none" stroke="#000" stroke-width="3.0" stroke-linejoin="round"/><path d="M146.05 1345.20V1357.80" stroke="#000" stroke-width="2.3"/><path d="M140.05 1345.20H152.05M140.05 1357.80H152.05" stroke="#000" stroke-width="2.6" stroke-linecap="round"/><text transform="translate(146.85 1342.50) scale(1.015 1.075)" font-size="26" text-anchor="middle" >b</text><path d="M177.55 1338.50V1364.10" stroke="#000" stroke-width="2.3"/><path d="M171.55 1338.50H183.55M171.55 1364.10H183.55" stroke="#000" stroke-width="2.6" stroke-linecap="round"/><text transform="translate(178.35 1335.00) scale(1.015 1.075)" font-size="26" text-anchor="middle" >b</text><path d="M209.05 1348.80V1353.30" stroke="#000" stroke-width="2.3"/><path d="M203.05 1348.80H215.05M203.05 1353.30H215.05" stroke="#000" stroke-width="2.6" stroke-linecap="round"/><text transform="translate(209.85 1342.50) scale(1.015 1.075)" font-size="26" text-anchor="middle" >b</text><path d="M240.55 1235.20V1289.30" stroke="#000" stroke-width="2.3"/><path d="M234.55 1235.20H246.55M234.55 1289.30H246.55" stroke="#000" stroke-width="2.6" stroke-linecap="round"/><text transform="translate(240.55 1231.60) scale(1.015 1.075)" font-size="26" text-anchor="middle" >a</text><path d="M272.05 1247.30V1266.40" stroke="#000" stroke-width="2.3"/><path d="M266.05 1247.30H278.05M266.05 1266.40H278.05" stroke="#000" stroke-width="2.6" stroke-linecap="round"/><text transform="translate(272.05 1244.20) scale(1.015 1.075)" font-size="26" text-anchor="middle" >a</text><rect x="326.70" y="1319.00" width="31.50" height="169.40" fill="white"/><rect x="326.70" y="1319.00" width="31.50" height="169.40" fill="none" stroke="#000" stroke-width="3.0" stroke-linejoin="round"/><rect x="358.20" y="1318.00" width="31.50" height="170.40" fill="white"/><path clip-path="url(#c25)" d="M358.20 1284.60L389.70 1254.14M358.20 1302.20L389.70 1271.74M358.20 1319.80L389.70 1289.34M358.20 1337.40L389.70 1306.94M358.20 1355.00L389.70 1324.54M358.20 1372.60L389.70 1342.14M358.20 1390.20L389.70 1359.74M358.20 1407.80L389.70 1377.34M358.20 1425.40L389.70 1394.94M358.20 1443.00L389.70 1412.54M358.20 1460.60L389.70 1430.14M358.20 1478.20L389.70 1447.74M358.20 1495.80L389.70 1465.34M358.20 1513.40L389.70 1482.94M358.20 1531.00L389.70 1500.54M358.20 1548.60L389.70 1518.14" stroke="#000" stroke-width="2.4" fill="none"/><rect x="358.20" y="1318.00" width="31.50" height="170.40" fill="none" stroke="#000" stroke-width="3.0" stroke-linejoin="round"/><rect x="389.70" y="1157.30" width="31.50" height="331.10" fill="white"/><path clip-path="url(#c26)" d="M389.70 1087.90L421.20 1118.36M389.70 1105.50L421.20 1135.96M389.70 1123.10L421.20 1153.56M389.70 1140.70L421.20 1171.16M389.70 1158.30L421.20 1188.76M389.70 1175.90L421.20 1206.36M389.70 1193.50L421.20 1223.96M389.70 1211.10L421.20 1241.56M389.70 1228.70L421.20 1259.16M389.70 1246.30L421.20 1276.76M389.70 1263.90L421.20 1294.36M389.70 1281.50L421.20 1311.96M389.70 1299.10L421.20 1329.56M389.70 1316.70L421.20 1347.16M389.70 1334.30L421.20 1364.76M389.70 1351.90L421.20 1382.36M389.70 1369.50L421.20 1399.96M389.70 1387.10L421.20 1417.56M389.70 1404.70L421.20 1435.16M389.70 1422.30L421.20 1452.76M389.70 1439.90L421.20 1470.36M389.70 1457.50L421.20 1487.96M389.70 1475.10L421.20 1505.56M389.70 1492.70L421.20 1523.16M389.70 1510.30L421.20 1540.76" stroke="#000" stroke-width="2.4" fill="none"/><rect x="389.70" y="1157.30" width="31.50" height="331.10" fill="none" stroke="#000" stroke-width="3.0" stroke-linejoin="round"/><rect x="421.20" y="1066.90" width="31.50" height="421.50" fill="white"/><path clip-path="url(#c27)" d="M421.20 1033.50L452.70 1003.04M421.20 1051.10L452.70 1020.64M421.20 1068.70L452.70 1038.24M421.20 1086.30L452.70 1055.84M421.20 1103.90L452.70 1073.44M421.20 1121.50L452.70 1091.04M421.20 1139.10L452.70 1108.64M421.20 1156.70L452.70 1126.24M421.20 1174.30L452.70 1143.84M421.20 1191.90L452.70 1161.44M421.20 1209.50L452.70 1179.04M421.20 1227.10L452.70 1196.64M421.20 1244.70L452.70 1214.24M421.20 1262.30L452.70 1231.84M421.20 1279.90L452.70 1249.44M421.20 1297.50L452.70 1267.04M421.20 1315.10L452.70 1284.64M421.20 1332.70L452.70 1302.24M421.20 1350.30L452.70 1319.84M421.20 1367.90L452.70 1337.44M421.20 1385.50L452.70 1355.04M421.20 1403.10L452.70 1372.64M421.20 1420.70L452.70 1390.24M421.20 1438.30L452.70 1407.84M421.20 1455.90L452.70 1425.44M421.20 1473.50L452.70 1443.04M421.20 1491.10L452.70 1460.64M421.20 1508.70L452.70 1478.24M421.20 1526.30L452.70 1495.84M421.20 1543.90L452.70 1513.44M421.20 997.50L452.70 1027.96M421.20 1015.10L452.70 1045.56M421.20 1032.70L452.70 1063.16M421.20 1050.30L452.70 1080.76M421.20 1067.90L452.70 1098.36M421.20 1085.50L452.70 1115.96M421.20 1103.10L452.70 1133.56M421.20 1120.70L452.70 1151.16M421.20 1138.30L452.70 1168.76M421.20 1155.90L452.70 1186.36M421.20 1173.50L452.70 1203.96M421.20 1191.10L452.70 1221.56M421.20 1208.70L452.70 1239.16M421.20 1226.30L452.70 1256.76M421.20 1243.90L452.70 1274.36M421.20 1261.50L452.70 1291.96M421.20 1279.10L452.70 1309.56M421.20 1296.70L452.70 1327.16M421.20 1314.30L452.70 1344.76M421.20 1331.90L452.70 1362.36M421.20 1349.50L452.70 1379.96M421.20 1367.10L452.70 1397.56M421.20 1384.70L452.70 1415.16M421.20 1402.30L452.70 1432.76M421.20 1419.90L452.70 1450.36M421.20 1437.50L452.70 1467.96M421.20 1455.10L452.70 1485.56M421.20 1472.70L452.70 1503.16M421.20 1490.30L452.70 1520.76M421.20 1507.90L452.70 1538.36" stroke="#000" stroke-width="2.4" fill="none"/><rect x="421.20" y="1066.90" width="31.50" height="421.50" fill="none" stroke="#000" stroke-width="3.0" stroke-linejoin="round"/><rect x="452.70" y="921.60" width="31.50" height="566.80" fill="white"/><path clip-path="url(#c28)" d="M452.70 934.32H484.20M452.70 947.04H484.20M452.70 959.76H484.20M452.70 972.48H484.20M452.70 985.20H484.20M452.70 997.92H484.20M452.70 1010.64H484.20M452.70 1023.36H484.20M452.70 1036.08H484.20M452.70 1048.80H484.20M452.70 1061.52H484.20M452.70 1074.24H484.20M452.70 1086.96H484.20M452.70 1099.68H484.20M452.70 1112.40H484.20M452.70 1125.12H484.20M452.70 1137.84H484.20M452.70 1150.56H484.20M452.70 1163.28H484.20M452.70 1176.00H484.20M452.70 1188.72H484.20M452.70 1201.44H484.20M452.70 1214.16H484.20M452.70 1226.88H484.20M452.70 1239.60H484.20M452.70 1252.32H484.20M452.70 1265.04H484.20M452.70 1277.76H484.20M452.70 1290.48H484.20M452.70 1303.20H484.20M452.70 1315.92H484.20M452.70 1328.64H484.20M452.70 1341.36H484.20M452.70 1354.08H484.20M452.70 1366.80H484.20M452.70 1379.52H484.20M452.70 1392.24H484.20M452.70 1404.96H484.20M452.70 1417.68H484.20M452.70 1430.40H484.20M452.70 1443.12H484.20M452.70 1455.84H484.20M452.70 1468.56H484.20M452.70 1481.28H484.20M452.70 1494.00H484.20" stroke="#000" stroke-width="2.4" fill="none"/><rect x="452.70" y="921.60" width="31.50" height="566.80" fill="none" stroke="#000" stroke-width="3.0" stroke-linejoin="round"/><path d="M342.45 1305.70V1333.30" stroke="#000" stroke-width="2.3"/><path d="M336.45 1305.70H348.45M336.45 1333.30H348.45" stroke="#000" stroke-width="2.6" stroke-linecap="round"/><text transform="translate(342.45 1302.70) scale(1.015 1.075)" font-size="26" text-anchor="middle" >d</text><path d="M373.95 1312.40V1324.00" stroke="#000" stroke-width="2.3"/><path d="M367.95 1312.40H379.95M367.95 1324.00H379.95" stroke="#000" stroke-width="2.6" stroke-linecap="round"/><text transform="translate(373.95 1307.80) scale(1.015 1.075)" font-size="26" text-anchor="middle" >d</text><path d="M405.45 1129.20V1185.90" stroke="#000" stroke-width="2.3"/><path d="M399.45 1129.20H411.45M399.45 1185.90H411.45" stroke="#000" stroke-width="2.6" stroke-linecap="round"/><text transform="translate(405.45 1124.00) scale(1.015 1.075)" font-size="26" text-anchor="middle" >c</text><path d="M436.95 1042.90V1090.40" stroke="#000" stroke-width="2.3"/><path d="M430.95 1042.90H442.95M430.95 1090.40H442.95" stroke="#000" stroke-width="2.6" stroke-linecap="round"/><text transform="translate(437.75 1037.30) scale(1.015 1.075)" font-size="26" text-anchor="middle" >b</text><path d="M468.45 906.70V935.90" stroke="#000" stroke-width="2.3"/><path d="M462.45 906.70H474.45M462.45 935.90H474.45" stroke="#000" stroke-width="2.6" stroke-linecap="round"/><text transform="translate(468.45 901.60) scale(1.015 1.075)" font-size="26" text-anchor="middle" >a</text><rect x="523.50" y="1333.30" width="31.50" height="155.10" fill="white"/><rect x="523.50" y="1333.30" width="31.50" height="155.10" fill="none" stroke="#000" stroke-width="3.0" stroke-linejoin="round"/><rect x="555.00" y="1358.20" width="31.50" height="130.20" fill="white"/><path clip-path="url(#c29)" d="M555.00 1324.80L586.50 1294.34M555.00 1342.40L586.50 1311.94M555.00 1360.00L586.50 1329.54M555.00 1377.60L586.50 1347.14M555.00 1395.20L586.50 1364.74M555.00 1412.80L586.50 1382.34M555.00 1430.40L586.50 1399.94M555.00 1448.00L586.50 1417.54M555.00 1465.60L586.50 1435.14M555.00 1483.20L586.50 1452.74M555.00 1500.80L586.50 1470.34M555.00 1518.40L586.50 1487.94M555.00 1536.00L586.50 1505.54M555.00 1553.60L586.50 1523.14" stroke="#000" stroke-width="2.4" fill="none"/><rect x="555.00" y="1358.20" width="31.50" height="130.20" fill="none" stroke="#000" stroke-width="3.0" stroke-linejoin="round"/><rect x="586.50" y="1325.40" width="31.50" height="163.00" fill="white"/><path clip-path="url(#c30)" d="M586.50 1256.00L618.00 1286.46M586.50 1273.60L618.00 1304.06M586.50 1291.20L618.00 1321.66M586.50 1308.80L618.00 1339.26M586.50 1326.40L618.00 1356.86M586.50 1344.00L618.00 1374.46M586.50 1361.60L618.00 1392.06M586.50 1379.20L618.00 1409.66M586.50 1396.80L618.00 1427.26M586.50 1414.40L618.00 1444.86M586.50 1432.00L618.00 1462.46M586.50 1449.60L618.00 1480.06M586.50 1467.20L618.00 1497.66M586.50 1484.80L618.00 1515.26M586.50 1502.40L618.00 1532.86M586.50 1520.00L618.00 1550.46" stroke="#000" stroke-width="2.4" fill="none"/><rect x="586.50" y="1325.40" width="31.50" height="163.00" fill="none" stroke="#000" stroke-width="3.0" stroke-linejoin="round"/><rect x="618.00" y="1317.60" width="31.50" height="170.80" fill="white"/><path clip-path="url(#c31)" d="M618.00 1284.20L649.50 1253.74M618.00 1301.80L649.50 1271.34M618.00 1319.40L649.50 1288.94M618.00 1337.00L649.50 1306.54M618.00 1354.60L649.50 1324.14M618.00 1372.20L649.50 1341.74M618.00 1389.80L649.50 1359.34M618.00 1407.40L649.50 1376.94M618.00 1425.00L649.50 1394.54M618.00 1442.60L649.50 1412.14M618.00 1460.20L649.50 1429.74M618.00 1477.80L649.50 1447.34M618.00 1495.40L649.50 1464.94M618.00 1513.00L649.50 1482.54M618.00 1530.60L649.50 1500.14M618.00 1548.20L649.50 1517.74M618.00 1248.20L649.50 1278.66M618.00 1265.80L649.50 1296.26M618.00 1283.40L649.50 1313.86M618.00 1301.00L649.50 1331.46M618.00 1318.60L649.50 1349.06M618.00 1336.20L649.50 1366.66M618.00 1353.80L649.50 1384.26M618.00 1371.40L649.50 1401.86M618.00 1389.00L649.50 1419.46M618.00 1406.60L649.50 1437.06M618.00 1424.20L649.50 1454.66M618.00 1441.80L649.50 1472.26M618.00 1459.40L649.50 1489.86M618.00 1477.00L649.50 1507.46M618.00 1494.60L649.50 1525.06M618.00 1512.20L649.50 1542.66" stroke="#000" stroke-width="2.4" fill="none"/><rect x="618.00" y="1317.60" width="31.50" height="170.80" fill="none" stroke="#000" stroke-width="3.0" stroke-linejoin="round"/><rect x="649.50" y="1331.50" width="31.50" height="156.90" fill="white"/><path clip-path="url(#c32)" d="M649.50 1344.22H681.00M649.50 1356.94H681.00M649.50 1369.66H681.00M649.50 1382.38H681.00M649.50 1395.10H681.00M649.50 1407.82H681.00M649.50 1420.54H681.00M649.50 1433.26H681.00M649.50 1445.98H681.00M649.50 1458.70H681.00M649.50 1471.42H681.00M649.50 1484.14H681.00M649.50 1496.86H681.00" stroke="#000" stroke-width="2.4" fill="none"/><rect x="649.50" y="1331.50" width="31.50" height="156.90" fill="none" stroke="#000" stroke-width="3.0" stroke-linejoin="round"/><path d="M539.25 1310.10V1357.70" stroke="#000" stroke-width="2.3"/><path d="M533.25 1310.10H545.25M533.25 1357.70H545.25" stroke="#000" stroke-width="2.6" stroke-linecap="round"/><text transform="translate(539.25 1304.10) scale(1.015 1.075)" font-size="26" text-anchor="middle" >a</text><path d="M570.75 1338.90V1377.70" stroke="#000" stroke-width="2.3"/><path d="M564.75 1338.90H576.75M564.75 1377.70H576.75" stroke="#000" stroke-width="2.6" stroke-linecap="round"/><text transform="translate(570.75 1335.70) scale(1.015 1.075)" font-size="26" text-anchor="middle" >a</text><path d="M602.25 1300.50V1349.70" stroke="#000" stroke-width="2.3"/><path d="M596.25 1300.50H608.25M596.25 1349.70H608.25" stroke="#000" stroke-width="2.6" stroke-linecap="round"/><text transform="translate(602.25 1296.00) scale(1.015 1.075)" font-size="26" text-anchor="middle" >a</text><path d="M633.75 1288.80V1346.10" stroke="#000" stroke-width="2.3"/><path d="M627.75 1288.80H639.75M627.75 1346.10H639.75" stroke="#000" stroke-width="2.6" stroke-linecap="round"/><text transform="translate(633.75 1285.20) scale(1.015 1.075)" font-size="26" text-anchor="middle" >a</text><path d="M665.25 1314.00V1348.00" stroke="#000" stroke-width="2.3"/><path d="M659.25 1314.00H671.25M659.25 1348.00H671.25" stroke="#000" stroke-width="2.6" stroke-linecap="round"/><text transform="translate(665.25 1309.50) scale(1.015 1.075)" font-size="26" text-anchor="middle" >a</text><rect x="719.80" y="1315.80" width="31.50" height="172.60" fill="white"/><rect x="719.80" y="1315.80" width="31.50" height="172.60" fill="none" stroke="#000" stroke-width="3.0" stroke-linejoin="round"/><rect x="751.30" y="1321.60" width="31.50" height="166.80" fill="white"/><path clip-path="url(#c33)" d="M751.30 1288.20L782.80 1257.74M751.30 1305.80L782.80 1275.34M751.30 1323.40L782.80 1292.94M751.30 1341.00L782.80 1310.54M751.30 1358.60L782.80 1328.14M751.30 1376.20L782.80 1345.74M751.30 1393.80L782.80 1363.34M751.30 1411.40L782.80 1380.94M751.30 1429.00L782.80 1398.54M751.30 1446.60L782.80 1416.14M751.30 1464.20L782.80 1433.74M751.30 1481.80L782.80 1451.34M751.30 1499.40L782.80 1468.94M751.30 1517.00L782.80 1486.54M751.30 1534.60L782.80 1504.14M751.30 1552.20L782.80 1521.74" stroke="#000" stroke-width="2.4" fill="none"/><rect x="751.30" y="1321.60" width="31.50" height="166.80" fill="none" stroke="#000" stroke-width="3.0" stroke-linejoin="round"/><rect x="782.80" y="1382.00" width="31.50" height="106.40" fill="white"/><path clip-path="url(#c34)" d="M782.80 1312.60L814.30 1343.06M782.80 1330.20L814.30 1360.66M782.80 1347.80L814.30 1378.26M782.80 1365.40L814.30 1395.86M782.80 1383.00L814.30 1413.46M782.80 1400.60L814.30 1431.06M782.80 1418.20L814.30 1448.66M782.80 1435.80L814.30 1466.26M782.80 1453.40L814.30 1483.86M782.80 1471.00L814.30 1501.46M782.80 1488.60L814.30 1519.06M782.80 1506.20L814.30 1536.66M782.80 1523.80L814.30 1554.26" stroke="#000" stroke-width="2.4" fill="none"/><rect x="782.80" y="1382.00" width="31.50" height="106.40" fill="none" stroke="#000" stroke-width="3.0" stroke-linejoin="round"/><rect x="814.30" y="1437.60" width="31.50" height="50.80" fill="white"/><path clip-path="url(#c35)" d="M814.30 1404.20L845.80 1373.74M814.30 1421.80L845.80 1391.34M814.30 1439.40L845.80 1408.94M814.30 1457.00L845.80 1426.54M814.30 1474.60L845.80 1444.14M814.30 1492.20L845.80 1461.74M814.30 1509.80L845.80 1479.34M814.30 1527.40L845.80 1496.94M814.30 1545.00L845.80 1514.54M814.30 1368.20L845.80 1398.66M814.30 1385.80L845.80 1416.26M814.30 1403.40L845.80 1433.86M814.30 1421.00L845.80 1451.46M814.30 1438.60L845.80 1469.06M814.30 1456.20L845.80 1486.66M814.30 1473.80L845.80 1504.26M814.30 1491.40L845.80 1521.86M814.30 1509.00L845.80 1539.46" stroke="#000" stroke-width="2.4" fill="none"/><rect x="814.30" y="1437.60" width="31.50" height="50.80" fill="none" stroke="#000" stroke-width="3.0" stroke-linejoin="round"/><rect x="845.80" y="1444.80" width="31.50" height="43.60" fill="white"/><path clip-path="url(#c36)" d="M845.80 1457.52H877.30M845.80 1470.24H877.30M845.80 1482.96H877.30M845.80 1495.68H877.30" stroke="#000" stroke-width="2.4" fill="none"/><rect x="845.80" y="1444.80" width="31.50" height="43.60" fill="none" stroke="#000" stroke-width="3.0" stroke-linejoin="round"/><path d="M735.55 1296.50V1335.10" stroke="#000" stroke-width="2.3"/><path d="M729.55 1296.50H741.55M729.55 1335.10H741.55" stroke="#000" stroke-width="2.6" stroke-linecap="round"/><text transform="translate(735.55 1293.30) scale(1.015 1.075)" font-size="26" text-anchor="middle" >a</text><path d="M767.05 1306.50V1336.60" stroke="#000" stroke-width="2.3"/><path d="M761.05 1306.50H773.05M761.05 1336.60H773.05" stroke="#000" stroke-width="2.6" stroke-linecap="round"/><text transform="translate(767.05 1302.30) scale(1.015 1.075)" font-size="26" text-anchor="middle" >a</text><path d="M798.55 1359.70V1403.30" stroke="#000" stroke-width="2.3"/><path d="M792.55 1359.70H804.55M792.55 1403.30H804.55" stroke="#000" stroke-width="2.6" stroke-linecap="round"/><text transform="translate(799.35 1356.40) scale(1.015 1.075)" font-size="26" text-anchor="middle" >b</text><path d="M830.05 1425.30V1449.30" stroke="#000" stroke-width="2.3"/><path d="M824.05 1425.30H836.05M824.05 1449.30H836.05" stroke="#000" stroke-width="2.6" stroke-linecap="round"/><text transform="translate(830.05 1420.50) scale(1.015 1.075)" font-size="26" text-anchor="middle" >c</text><path d="M861.55 1432.70V1456.50" stroke="#000" stroke-width="2.3"/><path d="M855.55 1432.70H867.55M855.55 1456.50H867.55" stroke="#000" stroke-width="2.6" stroke-linecap="round"/><text transform="translate(861.55 1428.60) scale(1.015 1.075)" font-size="26" text-anchor="middle" >c</text><path d="M110.50 852.70V1490.00" stroke="#000" stroke-width="3.2"/><path d="M108.90 1488.40H897.30" stroke="#000" stroke-width="3.2"/><path d="M98.00 1488.40H110.50" stroke="#000" stroke-width="3.2"/><text transform="translate(88.40 1496.80) scale(1 1.11)" font-size="26" text-anchor="end" >0</text><path d="M104.00 1448.77H110.50" stroke="#000" stroke-width="3.2"/><path d="M98.00 1409.14H110.50" stroke="#000" stroke-width="3.2"/><text transform="translate(88.40 1417.54) scale(1 1.11)" font-size="26" text-anchor="end" >3</text><path d="M104.00 1369.51H110.50" stroke="#000" stroke-width="3.2"/><path d="M98.00 1329.88H110.50" stroke="#000" stroke-width="3.2"/><text transform="translate(88.40 1338.28) scale(1 1.11)" font-size="26" text-anchor="end" >6</text><path d="M104.00 1290.25H110.50" stroke="#000" stroke-width="3.2"/><path d="M98.00 1250.62H110.50" stroke="#000" stroke-width="3.2"/><text transform="translate(88.40 1259.02) scale(1 1.11)" font-size="26" text-anchor="end" >9</text><path d="M104.00 1210.99H110.50" stroke="#000" stroke-width="3.2"/><path d="M98.00 1171.36H110.50" stroke="#000" stroke-width="3.2"/><text transform="translate(88.40 1179.76) scale(1 1.11)" font-size="26" text-anchor="end" >12</text><path d="M104.00 1131.73H110.50" stroke="#000" stroke-width="3.2"/><path d="M98.00 1092.10H110.50" stroke="#000" stroke-width="3.2"/><text transform="translate(88.40 1100.50) scale(1 1.11)" font-size="26" text-anchor="end" >15</text><path d="M104.00 1052.47H110.50" stroke="#000" stroke-width="3.2"/><path d="M98.00 1012.84H110.50" stroke="#000" stroke-width="3.2"/><text transform="translate(88.40 1021.24) scale(1 1.11)" font-size="26" text-anchor="end" >18</text><path d="M104.00 973.21H110.50" stroke="#000" stroke-width="3.2"/><path d="M98.00 933.58H110.50" stroke="#000" stroke-width="3.2"/><text transform="translate(88.40 941.98) scale(1 1.11)" font-size="26" text-anchor="end" >21</text><path d="M104.00 893.95H110.50" stroke="#000" stroke-width="3.2"/><path d="M98.00 854.32H110.50" stroke="#000" stroke-width="3.2"/><text transform="translate(88.40 862.72) scale(1 1.11)" font-size="26" text-anchor="end" >24</text><path d="M208.30 1488.40V1500.40" stroke="#000" stroke-width="3.2"/><path d="M404.80 1488.40V1500.40" stroke="#000" stroke-width="3.2"/><path d="M601.90 1488.40V1500.40" stroke="#000" stroke-width="3.2"/><path d="M798.40 1488.40V1500.40" stroke="#000" stroke-width="3.2"/><path d="M306.60 1488.40V1493.90" stroke="#000" stroke-width="3.2"/><path d="M503.00 1488.40V1493.90" stroke="#000" stroke-width="3.2"/><path d="M699.60 1488.40V1493.90" stroke="#000" stroke-width="3.2"/><text transform="translate(208.30 1529.50) scale(1 1.08)" font-size="26" text-anchor="middle" >24</text><text transform="translate(404.80 1529.50) scale(1 1.08)" font-size="26" text-anchor="middle" >48</text><text transform="translate(601.90 1529.50) scale(1 1.08)" font-size="26" text-anchor="middle" >72</text><text transform="translate(798.40 1529.50) scale(1 1.08)" font-size="26" text-anchor="middle" >96</text><text x="452.00" y="1572.00" font-size="30" text-anchor="start" >Time (h)</text><text x="483.60" y="1622.00" font-size="35" text-anchor="start" >B</text><text transform="translate(42.20 1328.60) rotate(-90)" font-size="33">POD activity (U mgprot<tspan font-size="22.4" dy="-13.9">-1</tspan><tspan dy="13.9">)</tspan></text><rect x="757.60" y="817.60" width="208.60" height="192.20" fill="white" stroke="#000" stroke-width="2.2"/><rect x="762.80" y="825.30" width="60.60" height="30.20" fill="white"/><rect x="762.80" y="825.30" width="60.60" height="30.20" fill="none" stroke="#000" stroke-width="3.0" stroke-linejoin="round"/><text x="831.80" y="849.10" font-size="27.2">0<tspan dx="1.2"> mg L</tspan><tspan font-size="18.5" dx="0" dy="-10.9">-<tspan dx="0.5">1</tspan></tspan></text><rect x="762.80" y="862.80" width="60.60" height="30.20" fill="white"/><path clip-path="url(#c37)" d="M762.80 827.60L823.40 769.00M762.80 845.20L823.40 786.60M762.80 862.80L823.40 804.20M762.80 880.40L823.40 821.80M762.80 898.00L823.40 839.40M762.80 915.60L823.40 857.00M762.80 933.20L823.40 874.60M762.80 950.80L823.40 892.20M762.80 968.40L823.40 909.80M762.80 986.00L823.40 927.40" stroke="#000" stroke-width="2.4" fill="none"/><rect x="762.80" y="862.80" width="60.60" height="30.20" fill="none" stroke="#000" stroke-width="3.0" stroke-linejoin="round"/><text x="831.80" y="886.90" font-size="27.2">0.01<tspan dx="2.5"> mg L</tspan><tspan font-size="18.5" dx="0" dy="-10.9">-<tspan dx="0.5">1</tspan></tspan></text><rect x="762.80" y="900.60" width="60.60" height="30.20" fill="white"/><path clip-path="url(#c38)" d="M762.80 795.00L823.40 853.60M762.80 812.60L823.40 871.20M762.80 830.20L823.40 888.80M762.80 847.80L823.40 906.40M762.80 865.40L823.40 924.00M762.80 883.00L823.40 941.60M762.80 900.60L823.40 959.20M762.80 918.20L823.40 976.80M762.80 935.80L823.40 994.40M762.80 953.40L823.40 1012.00" stroke="#000" stroke-width="2.4" fill="none"/><rect x="762.80" y="900.60" width="60.60" height="30.20" fill="none" stroke="#000" stroke-width="3.0" stroke-linejoin="round"/><text x="831.80" y="924.70" font-size="27.2">1<tspan dx="1.2"> mg L</tspan><tspan font-size="18.5" dx="0" dy="-10.9">-<tspan dx="0.5">1</tspan></tspan></text><rect x="762.80" y="938.80" width="60.60" height="30.20" fill="white"/><path clip-path="url(#c39)" d="M762.80 903.60L823.40 845.00M762.80 921.20L823.40 862.60M762.80 938.80L823.40 880.20M762.80 956.40L823.40 897.80M762.80 974.00L823.40 915.40M762.80 991.60L823.40 933.00M762.80 1009.20L823.40 950.60M762.80 1026.80L823.40 968.20M762.80 1044.40L823.40 985.80M762.80 1062.00L823.40 1003.40M762.80 833.20L823.40 891.80M762.80 850.80L823.40 909.40M762.80 868.40L823.40 927.00M762.80 886.00L823.40 944.60M762.80 903.60L823.40 962.20M762.80 921.20L823.40 979.80M762.80 938.80L823.40 997.40M762.80 956.40L823.40 1015.00M762.80 974.00L823.40 1032.60M762.80 991.60L823.40 1050.20" stroke="#000" stroke-width="2.4" fill="none"/><rect x="762.80" y="938.80" width="60.60" height="30.20" fill="none" stroke="#000" stroke-width="3.0" stroke-linejoin="round"/><text x="831.80" y="962.50" font-size="27.2">2<tspan dx="1.2"> mg L</tspan><tspan font-size="18.5" dx="0" dy="-10.9">-<tspan dx="0.5">1</tspan></tspan></text><rect x="762.80" y="976.40" width="60.60" height="30.20" fill="white"/><path clip-path="url(#c40)" d="M762.80 989.12H823.40M762.80 1001.84H823.40M762.80 1014.56H823.40" stroke="#000" stroke-width="2.4" fill="none"/><rect x="762.80" y="976.40" width="60.60" height="30.20" fill="none" stroke="#000" stroke-width="3.0" stroke-linejoin="round"/><text x="831.80" y="1000.30" font-size="27.2">4<tspan dx="1.2"> mg L</tspan><tspan font-size="18.5" dx="0" dy="-10.9">-<tspan dx="0.5">1</tspan></tspan></text><rect x="146.50" y="2261.40" width="31.90" height="86.20" fill="white"/><rect x="146.50" y="2261.40" width="31.90" height="86.20" fill="none" stroke="#000" stroke-width="3.0" stroke-linejoin="round"/><rect x="178.40" y="2239.90" width="31.90" height="107.70" fill="white"/><path clip-path="url(#c41)" d="M178.40 2206.50L210.30 2175.65M178.40 2224.10L210.30 2193.25M178.40 2241.70L210.30 2210.85M178.40 2259.30L210.30 2228.45M178.40 2276.90L210.30 2246.05M178.40 2294.50L210.30 2263.65M178.40 2312.10L210.30 2281.25M178.40 2329.70L210.30 2298.85M178.40 2347.30L210.30 2316.45M178.40 2364.90L210.30 2334.05M178.40 2382.50L210.30 2351.65M178.40 2400.10L210.30 2369.25" stroke="#000" stroke-width="2.4" fill="none"/><rect x="178.40" y="2239.90" width="31.90" height="107.70" fill="none" stroke="#000" stroke-width="3.0" stroke-linejoin="round"/><rect x="210.30" y="2196.70" width="31.90" height="150.90" fill="white"/><path clip-path="url(#c42)" d="M210.30 2127.30L242.20 2158.15M210.30 2144.90L242.20 2175.75M210.30 2162.50L242.20 2193.35M210.30 2180.10L242.20 2210.95M210.30 2197.70L242.20 2228.55M210.30 2215.30L242.20 2246.15M210.30 2232.90L242.20 2263.75M210.30 2250.50L242.20 2281.35M210.30 2268.10L242.20 2298.95M210.30 2285.70L242.20 2316.55M210.30 2303.30L242.20 2334.15M210.30 2320.90L242.20 2351.75M210.30 2338.50L242.20 2369.35M210.30 2356.10L242.20 2386.95M210.30 2373.70L242.20 2404.55" stroke="#000" stroke-width="2.4" fill="none"/><rect x="210.30" y="2196.70" width="31.90" height="150.90" fill="none" stroke="#000" stroke-width="3.0" stroke-linejoin="round"/><rect x="242.20" y="2106.10" width="31.90" height="241.50" fill="white"/><path clip-path="url(#c43)" d="M242.20 2072.70L274.10 2041.85M242.20 2090.30L274.10 2059.45M242.20 2107.90L274.10 2077.05M242.20 2125.50L274.10 2094.65M242.20 2143.10L274.10 2112.25M242.20 2160.70L274.10 2129.85M242.20 2178.30L274.10 2147.45M242.20 2195.90L274.10 2165.05M242.20 2213.50L274.10 2182.65M242.20 2231.10L274.10 2200.25M242.20 2248.70L274.10 2217.85M242.20 2266.30L274.10 2235.45M242.20 2283.90L274.10 2253.05M242.20 2301.50L274.10 2270.65M242.20 2319.10L274.10 2288.25M242.20 2336.70L274.10 2305.85M242.20 2354.30L274.10 2323.45M242.20 2371.90L274.10 2341.05M242.20 2389.50L274.10 2358.65M242.20 2407.10L274.10 2376.25M242.20 2036.70L274.10 2067.55M242.20 2054.30L274.10 2085.15M242.20 2071.90L274.10 2102.75M242.20 2089.50L274.10 2120.35M242.20 2107.10L274.10 2137.95M242.20 2124.70L274.10 2155.55M242.20 2142.30L274.10 2173.15M242.20 2159.90L274.10 2190.75M242.20 2177.50L274.10 2208.35M242.20 2195.10L274.10 2225.95M242.20 2212.70L274.10 2243.55M242.20 2230.30L274.10 2261.15M242.20 2247.90L274.10 2278.75M242.20 2265.50L274.10 2296.35M242.20 2283.10L274.10 2313.95M242.20 2300.70L274.10 2331.55M242.20 2318.30L274.10 2349.15M242.20 2335.90L274.10 2366.75M242.20 2353.50L274.10 2384.35M242.20 2371.10L274.10 2401.95" stroke="#000" stroke-width="2.4" fill="none"/><rect x="242.20" y="2106.10" width="31.90" height="241.50" fill="none" stroke="#000" stroke-width="3.0" stroke-linejoin="round"/><rect x="274.10" y="1834.20" width="31.90" height="513.40" fill="white"/><path clip-path="url(#c44)" d="M274.10 1846.92H306.00M274.10 1859.64H306.00M274.10 1872.36H306.00M274.10 1885.08H306.00M274.10 1897.80H306.00M274.10 1910.52H306.00M274.10 1923.24H306.00M274.10 1935.96H306.00M274.10 1948.68H306.00M274.10 1961.40H306.00M274.10 1974.12H306.00M274.10 1986.84H306.00M274.10 1999.56H306.00M274.10 2012.28H306.00M274.10 2025.00H306.00M274.10 2037.72H306.00M274.10 2050.44H306.00M274.10 2063.16H306.00M274.10 2075.88H306.00M274.10 2088.60H306.00M274.10 2101.32H306.00M274.10 2114.04H306.00M274.10 2126.76H306.00M274.10 2139.48H306.00M274.10 2152.20H306.00M274.10 2164.92H306.00M274.10 2177.64H306.00M274.10 2190.36H306.00M274.10 2203.08H306.00M274.10 2215.80H306.00M274.10 2228.52H306.00M274.10 2241.24H306.00M274.10 2253.96H306.00M274.10 2266.68H306.00M274.10 2279.40H306.00M274.10 2292.12H306.00M274.10 2304.84H306.00M274.10 2317.56H306.00M274.10 2330.28H306.00M274.10 2343.00H306.00M274.10 2355.72H306.00" stroke="#000" stroke-width="2.4" fill="none"/><rect x="274.10" y="1834.20" width="31.90" height="513.40" fill="none" stroke="#000" stroke-width="3.0" stroke-linejoin="round"/><path d="M162.45 2257.00V2266.50" stroke="#000" stroke-width="2.3"/><path d="M156.45 2257.00H168.45M156.45 2266.50H168.45" stroke="#000" stroke-width="2.6" stroke-linecap="round"/><text transform="translate(162.45 2251.30) scale(1.015 1.075)" font-size="26" text-anchor="middle" >d</text><path d="M194.35 2236.00V2243.70" stroke="#000" stroke-width="2.3"/><path d="M188.35 2236.00H200.35M188.35 2243.70H200.35" stroke="#000" stroke-width="2.6" stroke-linecap="round"/><text transform="translate(194.35 2232.30) scale(1.015 1.075)" font-size="26" text-anchor="middle" >d</text><path d="M226.25 2192.30V2200.90" stroke="#000" stroke-width="2.3"/><path d="M220.25 2192.30H232.25M220.25 2200.90H232.25" stroke="#000" stroke-width="2.6" stroke-linecap="round"/><text transform="translate(226.25 2185.60) scale(1.015 1.075)" font-size="26" text-anchor="middle" >c</text><path d="M258.15 2093.30V2120.50" stroke="#000" stroke-width="2.3"/><path d="M252.15 2093.30H264.15M252.15 2120.50H264.15" stroke="#000" stroke-width="2.6" stroke-linecap="round"/><text transform="translate(258.95 2087.60) scale(1.015 1.075)" font-size="26" text-anchor="middle" >b</text><path d="M290.05 1755.10V1913.70" stroke="#000" stroke-width="2.3"/><path d="M284.05 1755.10H296.05M284.05 1913.70H296.05" stroke="#000" stroke-width="2.6" stroke-linecap="round"/><text transform="translate(290.05 1751.10) scale(1.015 1.075)" font-size="26" text-anchor="middle" >a</text><rect x="344.80" y="2244.30" width="31.90" height="103.30" fill="white"/><rect x="344.80" y="2244.30" width="31.90" height="103.30" fill="none" stroke="#000" stroke-width="3.0" stroke-linejoin="round"/><rect x="376.70" y="2247.10" width="31.90" height="100.50" fill="white"/><path clip-path="url(#c45)" d="M376.70 2213.70L408.60 2182.85M376.70 2231.30L408.60 2200.45M376.70 2248.90L408.60 2218.05M376.70 2266.50L408.60 2235.65M376.70 2284.10L408.60 2253.25M376.70 2301.70L408.60 2270.85M376.70 2319.30L408.60 2288.45M376.70 2336.90L408.60 2306.05M376.70 2354.50L408.60 2323.65M376.70 2372.10L408.60 2341.25M376.70 2389.70L408.60 2358.85M376.70 2407.30L408.60 2376.45" stroke="#000" stroke-width="2.4" fill="none"/><rect x="376.70" y="2247.10" width="31.90" height="100.50" fill="none" stroke="#000" stroke-width="3.0" stroke-linejoin="round"/><rect x="408.60" y="2222.40" width="31.90" height="125.20" fill="white"/><path clip-path="url(#c46)" d="M408.60 2153.00L440.50 2183.85M408.60 2170.60L440.50 2201.45M408.60 2188.20L440.50 2219.05M408.60 2205.80L440.50 2236.65M408.60 2223.40L440.50 2254.25M408.60 2241.00L440.50 2271.85M408.60 2258.60L440.50 2289.45M408.60 2276.20L440.50 2307.05M408.60 2293.80L440.50 2324.65M408.60 2311.40L440.50 2342.25M408.60 2329.00L440.50 2359.85M408.60 2346.60L440.50 2377.45M408.60 2364.20L440.50 2395.05M408.60 2381.80L440.50 2412.65" stroke="#000" stroke-width="2.4" fill="none"/><rect x="408.60" y="2222.40" width="31.90" height="125.20" fill="none" stroke="#000" stroke-width="3.0" stroke-linejoin="round"/><rect x="440.50" y="2152.00" width="31.90" height="195.60" fill="white"/><path clip-path="url(#c47)" d="M440.50 2118.60L472.40 2087.75M440.50 2136.20L472.40 2105.35M440.50 2153.80L472.40 2122.95M440.50 2171.40L472.40 2140.55M440.50 2189.00L472.40 2158.15M440.50 2206.60L472.40 2175.75M440.50 2224.20L472.40 2193.35M440.50 2241.80L472.40 2210.95M440.50 2259.40L472.40 2228.55M440.50 2277.00L472.40 2246.15M440.50 2294.60L472.40 2263.75M440.50 2312.20L472.40 2281.35M440.50 2329.80L472.40 2298.95M440.50 2347.40L472.40 2316.55M440.50 2365.00L472.40 2334.15M440.50 2382.60L472.40 2351.75M440.50 2400.20L472.40 2369.35M440.50 2082.60L472.40 2113.45M440.50 2100.20L472.40 2131.05M440.50 2117.80L472.40 2148.65M440.50 2135.40L472.40 2166.25M440.50 2153.00L472.40 2183.85M440.50 2170.60L472.40 2201.45M440.50 2188.20L472.40 2219.05M440.50 2205.80L472.40 2236.65M440.50 2223.40L472.40 2254.25M440.50 2241.00L472.40 2271.85M440.50 2258.60L472.40 2289.45M440.50 2276.20L472.40 2307.05M440.50 2293.80L472.40 2324.65M440.50 2311.40L472.40 2342.25M440.50 2329.00L472.40 2359.85M440.50 2346.60L472.40 2377.45M440.50 2364.20L472.40 2395.05M440.50 2381.80L472.40 2412.65" stroke="#000" stroke-width="2.4" fill="none"/><rect x="440.50" y="2152.00" width="31.90" height="195.60" fill="none" stroke="#000" stroke-width="3.0" stroke-linejoin="round"/><rect x="472.40" y="2107.60" width="31.90" height="240.00" fill="white"/><path clip-path="url(#c48)" d="M472.40 2120.32H504.30M472.40 2133.04H504.30M472.40 2145.76H504.30M472.40 2158.48H504.30M472.40 2171.20H504.30M472.40 2183.92H504.30M472.40 2196.64H504.30M472.40 2209.36H504.30M472.40 2222.08H504.30M472.40 2234.80H504.30M472.40 2247.52H504.30M472.40 2260.24H504.30M472.40 2272.96H504.30M472.40 2285.68H504.30M472.40 2298.40H504.30M472.40 2311.12H504.30M472.40 2323.84H504.30M472.40 2336.56H504.30M472.40 2349.28H504.30" stroke="#000" stroke-width="2.4" fill="none"/><rect x="472.40" y="2107.60" width="31.90" height="240.00" fill="none" stroke="#000" stroke-width="3.0" stroke-linejoin="round"/><path d="M360.75 2240.30V2249.00" stroke="#000" stroke-width="2.3"/><path d="M354.75 2240.30H366.75M354.75 2249.00H366.75" stroke="#000" stroke-width="2.6" stroke-linecap="round"/><text transform="translate(360.75 2235.20) scale(1.015 1.075)" font-size="26" text-anchor="middle" >d</text><path d="M392.65 2243.70V2251.30" stroke="#000" stroke-width="2.3"/><path d="M386.65 2243.70H398.65M386.65 2251.30H398.65" stroke="#000" stroke-width="2.6" stroke-linecap="round"/><text transform="translate(392.65 2241.80) scale(1.015 1.075)" font-size="26" text-anchor="middle" >d</text><path d="M424.55 2211.40V2233.80" stroke="#000" stroke-width="2.3"/><path d="M418.55 2211.40H430.55M418.55 2233.80H430.55" stroke="#000" stroke-width="2.6" stroke-linecap="round"/><text transform="translate(424.55 2205.60) scale(1.015 1.075)" font-size="26" text-anchor="middle" >c</text><path d="M456.45 2141.30V2162.40" stroke="#000" stroke-width="2.3"/><path d="M450.45 2141.30H462.45M450.45 2162.40H462.45" stroke="#000" stroke-width="2.6" stroke-linecap="round"/><text transform="translate(457.25 2138.00) scale(1.015 1.075)" font-size="26" text-anchor="middle" >b</text><path d="M488.35 2093.70V2120.00" stroke="#000" stroke-width="2.3"/><path d="M482.35 2093.70H494.35M482.35 2120.00H494.35" stroke="#000" stroke-width="2.6" stroke-linecap="round"/><text transform="translate(488.35 2088.00) scale(1.015 1.075)" font-size="26" text-anchor="middle" >a</text><rect x="543.70" y="2272.70" width="31.90" height="74.90" fill="white"/><rect x="543.70" y="2272.70" width="31.90" height="74.90" fill="none" stroke="#000" stroke-width="3.0" stroke-linejoin="round"/><rect x="575.60" y="2265.70" width="31.90" height="81.90" fill="white"/><path clip-path="url(#c49)" d="M575.60 2232.30L607.50 2201.45M575.60 2249.90L607.50 2219.05M575.60 2267.50L607.50 2236.65M575.60 2285.10L607.50 2254.25M575.60 2302.70L607.50 2271.85M575.60 2320.30L607.50 2289.45M575.60 2337.90L607.50 2307.05M575.60 2355.50L607.50 2324.65M575.60 2373.10L607.50 2342.25M575.60 2390.70L607.50 2359.85M575.60 2408.30L607.50 2377.45" stroke="#000" stroke-width="2.4" fill="none"/><rect x="575.60" y="2265.70" width="31.90" height="81.90" fill="none" stroke="#000" stroke-width="3.0" stroke-linejoin="round"/><rect x="607.50" y="2283.40" width="31.90" height="64.20" fill="white"/><path clip-path="url(#c50)" d="M607.50 2214.00L639.40 2244.85M607.50 2231.60L639.40 2262.45M607.50 2249.20L639.40 2280.05M607.50 2266.80L639.40 2297.65M607.50 2284.40L639.40 2315.25M607.50 2302.00L639.40 2332.85M607.50 2319.60L639.40 2350.45M607.50 2337.20L639.40 2368.05M607.50 2354.80L639.40 2385.65M607.50 2372.40L639.40 2403.25" stroke="#000" stroke-width="2.4" fill="none"/><rect x="607.50" y="2283.40" width="31.90" height="64.20" fill="none" stroke="#000" stroke-width="3.0" stroke-linejoin="round"/><rect x="639.40" y="2309.50" width="31.90" height="38.10" fill="white"/><path clip-path="url(#c51)" d="M639.40 2276.10L671.30 2245.25M639.40 2293.70L671.30 2262.85M639.40 2311.30L671.30 2280.45M639.40 2328.90L671.30 2298.05M639.40 2346.50L671.30 2315.65M639.40 2364.10L671.30 2333.25M639.40 2381.70L671.30 2350.85M639.40 2399.30L671.30 2368.45M639.40 2240.10L671.30 2270.95M639.40 2257.70L671.30 2288.55M639.40 2275.30L671.30 2306.15M639.40 2292.90L671.30 2323.75M639.40 2310.50L671.30 2341.35M639.40 2328.10L671.30 2358.95M639.40 2345.70L671.30 2376.55M639.40 2363.30L671.30 2394.15M639.40 2380.90L671.30 2411.75" stroke="#000" stroke-width="2.4" fill="none"/><rect x="639.40" y="2309.50" width="31.90" height="38.10" fill="none" stroke="#000" stroke-width="3.0" stroke-linejoin="round"/><rect x="671.30" y="2331.00" width="31.90" height="16.60" fill="white"/><path clip-path="url(#c52)" d="M671.30 2343.72H703.20M671.30 2356.44H703.20" stroke="#000" stroke-width="2.4" fill="none"/><rect x="671.30" y="2331.00" width="31.90" height="16.60" fill="none" stroke="#000" stroke-width="3.0" stroke-linejoin="round"/><path d="M559.65 2267.20V2278.60" stroke="#000" stroke-width="2.3"/><path d="M553.65 2267.20H565.65M553.65 2278.60H565.65" stroke="#000" stroke-width="2.6" stroke-linecap="round"/><text transform="translate(559.65 2262.80) scale(1.015 1.075)" font-size="26" text-anchor="middle" >a</text><path d="M591.55 2254.20V2276.70" stroke="#000" stroke-width="2.3"/><path d="M585.55 2254.20H597.55M585.55 2276.70H597.55" stroke="#000" stroke-width="2.6" stroke-linecap="round"/><text transform="translate(591.55 2251.40) scale(1.015 1.075)" font-size="26" text-anchor="middle" >a</text><path d="M623.45 2271.00V2296.10" stroke="#000" stroke-width="2.3"/><path d="M617.45 2271.00H629.45M617.45 2296.10H629.45" stroke="#000" stroke-width="2.6" stroke-linecap="round"/><text transform="translate(623.45 2267.60) scale(1.015 1.075)" font-size="26" text-anchor="middle" >a</text><path d="M655.35 2300.30V2317.40" stroke="#000" stroke-width="2.3"/><path d="M649.35 2300.30H661.35M649.35 2317.40H661.35" stroke="#000" stroke-width="2.6" stroke-linecap="round"/><text transform="translate(656.15 2295.20) scale(1.015 1.075)" font-size="26" text-anchor="middle" >b</text><path d="M687.25 2322.80V2337.10" stroke="#000" stroke-width="2.3"/><path d="M681.25 2322.80H693.25M681.25 2337.10H693.25" stroke="#000" stroke-width="2.6" stroke-linecap="round"/><text transform="translate(687.25 2318.00) scale(1.015 1.075)" font-size="26" text-anchor="middle" >c</text><rect x="742.40" y="2266.20" width="31.90" height="81.40" fill="white"/><rect x="742.40" y="2266.20" width="31.90" height="81.40" fill="none" stroke="#000" stroke-width="3.0" stroke-linejoin="round"/><rect x="774.30" y="2260.20" width="31.90" height="87.40" fill="white"/><path clip-path="url(#c53)" d="M774.30 2226.80L806.20 2195.95M774.30 2244.40L806.20 2213.55M774.30 2262.00L806.20 2231.15M774.30 2279.60L806.20 2248.75M774.30 2297.20L806.20 2266.35M774.30 2314.80L806.20 2283.95M774.30 2332.40L806.20 2301.55M774.30 2350.00L806.20 2319.15M774.30 2367.60L806.20 2336.75M774.30 2385.20L806.20 2354.35M774.30 2402.80L806.20 2371.95" stroke="#000" stroke-width="2.4" fill="none"/><rect x="774.30" y="2260.20" width="31.90" height="87.40" fill="none" stroke="#000" stroke-width="3.0" stroke-linejoin="round"/><rect x="806.20" y="2312.90" width="31.90" height="34.70" fill="white"/><path clip-path="url(#c54)" d="M806.20 2243.50L838.10 2274.35M806.20 2261.10L838.10 2291.95M806.20 2278.70L838.10 2309.55M806.20 2296.30L838.10 2327.15M806.20 2313.90L838.10 2344.75M806.20 2331.50L838.10 2362.35M806.20 2349.10L838.10 2379.95M806.20 2366.70L838.10 2397.55" stroke="#000" stroke-width="2.4" fill="none"/><rect x="806.20" y="2312.90" width="31.90" height="34.70" fill="none" stroke="#000" stroke-width="3.0" stroke-linejoin="round"/><rect x="838.10" y="2332.30" width="31.90" height="15.30" fill="white"/><path clip-path="url(#c55)" d="M838.10 2298.90L870.00 2268.05M838.10 2316.50L870.00 2285.65M838.10 2334.10L870.00 2303.25M838.10 2351.70L870.00 2320.85M838.10 2369.30L870.00 2338.45M838.10 2386.90L870.00 2356.05M838.10 2404.50L870.00 2373.65M838.10 2262.90L870.00 2293.75M838.10 2280.50L870.00 2311.35M838.10 2298.10L870.00 2328.95M838.10 2315.70L870.00 2346.55M838.10 2333.30L870.00 2364.15M838.10 2350.90L870.00 2381.75M838.10 2368.50L870.00 2399.35" stroke="#000" stroke-width="2.4" fill="none"/><rect x="838.10" y="2332.30" width="31.90" height="15.30" fill="none" stroke="#000" stroke-width="3.0" stroke-linejoin="round"/><rect x="870.00" y="2327.30" width="31.90" height="20.30" fill="white"/><path clip-path="url(#c56)" d="M870.00 2340.02H901.90M870.00 2352.74H901.90" stroke="#000" stroke-width="2.4" fill="none"/><rect x="870.00" y="2327.30" width="31.90" height="20.30" fill="none" stroke="#000" stroke-width="3.0" stroke-linejoin="round"/><path d="M758.35 2259.20V2273.20" stroke="#000" stroke-width="2.3"/><path d="M752.35 2259.20H764.35M752.35 2273.20H764.35" stroke="#000" stroke-width="2.6" stroke-linecap="round"/><text transform="translate(758.35 2255.20) scale(1.015 1.075)" font-size="26" text-anchor="middle" >a</text><path d="M790.25 2251.50V2268.20" stroke="#000" stroke-width="2.3"/><path d="M784.25 2251.50H796.25M784.25 2268.20H796.25" stroke="#000" stroke-width="2.6" stroke-linecap="round"/><text transform="translate(790.25 2248.10) scale(1.015 1.075)" font-size="26" text-anchor="middle" >a</text><path d="M822.15 2309.30V2317.90" stroke="#000" stroke-width="2.3"/><path d="M816.15 2309.30H828.15M816.15 2317.90H828.15" stroke="#000" stroke-width="2.6" stroke-linecap="round"/><text transform="translate(822.95 2305.20) scale(1.015 1.075)" font-size="26" text-anchor="middle" >b</text><path d="M854.05 2329.30V2335.30" stroke="#000" stroke-width="2.3"/><path d="M848.05 2329.30H860.05M848.05 2335.30H860.05" stroke="#000" stroke-width="2.6" stroke-linecap="round"/><text transform="translate(854.05 2322.30) scale(1.015 1.075)" font-size="26" text-anchor="middle" >c</text><path d="M885.95 2316.30V2337.90" stroke="#000" stroke-width="2.3"/><path d="M879.95 2316.30H891.95M879.95 2337.90H891.95" stroke="#000" stroke-width="2.6" stroke-linecap="round"/><text transform="translate(886.75 2312.30) scale(1.015 1.075)" font-size="26" text-anchor="middle" >b</text><path d="M126.60 1705.00V2349.20" stroke="#000" stroke-width="3.2"/><path d="M125.00 2347.60H922.60" stroke="#000" stroke-width="3.2"/><path d="M114.10 2347.60H126.60" stroke="#000" stroke-width="3.2"/><text transform="translate(104.50 2356.00) scale(1 1.11)" font-size="26" text-anchor="end" >0</text><path d="M120.10 2308.76H126.60" stroke="#000" stroke-width="3.2"/><path d="M114.10 2269.92H126.60" stroke="#000" stroke-width="3.2"/><text transform="translate(104.50 2278.32) scale(1 1.11)" font-size="26" text-anchor="end" >20</text><path d="M120.10 2231.08H126.60" stroke="#000" stroke-width="3.2"/><path d="M114.10 2192.24H126.60" stroke="#000" stroke-width="3.2"/><text transform="translate(104.50 2200.64) scale(1 1.11)" font-size="26" text-anchor="end" >40</text><path d="M120.10 2153.40H126.60" stroke="#000" stroke-width="3.2"/><path d="M114.10 2114.56H126.60" stroke="#000" stroke-width="3.2"/><text transform="translate(104.50 2122.96) scale(1 1.11)" font-size="26" text-anchor="end" >60</text><path d="M120.10 2075.72H126.60" stroke="#000" stroke-width="3.2"/><path d="M114.10 2036.88H126.60" stroke="#000" stroke-width="3.2"/><text transform="translate(104.50 2045.28) scale(1 1.11)" font-size="26" text-anchor="end" >80</text><path d="M120.10 1998.04H126.60" stroke="#000" stroke-width="3.2"/><path d="M114.10 1959.20H126.60" stroke="#000" stroke-width="3.2"/><text transform="translate(104.50 1967.60) scale(1 1.11)" font-size="26" text-anchor="end" >100</text><path d="M120.10 1920.36H126.60" stroke="#000" stroke-width="3.2"/><path d="M114.10 1881.52H126.60" stroke="#000" stroke-width="3.2"/><text transform="translate(104.50 1889.92) scale(1 1.11)" font-size="26" text-anchor="end" >120</text><path d="M120.10 1842.68H126.60" stroke="#000" stroke-width="3.2"/><path d="M114.10 1803.84H126.60" stroke="#000" stroke-width="3.2"/><text transform="translate(104.50 1812.24) scale(1 1.11)" font-size="26" text-anchor="end" >140</text><path d="M120.10 1765.00H126.60" stroke="#000" stroke-width="3.2"/><path d="M114.10 1726.16H126.60" stroke="#000" stroke-width="3.2"/><text transform="translate(104.50 1734.56) scale(1 1.11)" font-size="26" text-anchor="end" >160</text><path d="M225.50 2347.60V2359.60" stroke="#000" stroke-width="3.2"/><path d="M424.50 2347.60V2359.60" stroke="#000" stroke-width="3.2"/><path d="M623.10 2347.60V2359.60" stroke="#000" stroke-width="3.2"/><path d="M821.70 2347.60V2359.60" stroke="#000" stroke-width="3.2"/><path d="M326.60 2347.60V2353.10" stroke="#000" stroke-width="3.2"/><path d="M523.80 2347.60V2353.10" stroke="#000" stroke-width="3.2"/><path d="M723.00 2347.60V2353.10" stroke="#000" stroke-width="3.2"/><text transform="translate(225.50 2389.40) scale(1 1.08)" font-size="26" text-anchor="middle" >24</text><text transform="translate(424.50 2389.40) scale(1 1.08)" font-size="26" text-anchor="middle" >48</text><text transform="translate(623.10 2389.40) scale(1 1.08)" font-size="26" text-anchor="middle" >72</text><text transform="translate(821.70 2389.40) scale(1 1.08)" font-size="26" text-anchor="middle" >96</text><text x="465.40" y="2426.30" font-size="33.6" text-anchor="start" >Time (h)</text><text x="490.00" y="2490.40" font-size="35.5" text-anchor="start" >C</text><text transform="translate(49.00 2204.50) rotate(-90)" font-size="34">CAT activity (U mgprot<tspan font-size="23.1" dy="-14.3">-1</tspan><tspan dy="14.3">)</tspan></text><rect x="779.10" y="1639.10" width="211.00" height="195.50" fill="white" stroke="#000" stroke-width="2.2"/><rect x="784.40" y="1647.80" width="61.60" height="30.40" fill="white"/><rect x="784.40" y="1647.80" width="61.60" height="30.40" fill="none" stroke="#000" stroke-width="3.0" stroke-linejoin="round"/><text x="853.70" y="1671.30" font-size="27.6">0<tspan dx="1.2"> mg L</tspan><tspan font-size="18.8" dx="0" dy="-11.0">-<tspan dx="0.5">1</tspan></tspan></text><rect x="784.40" y="1685.60" width="61.60" height="30.40" fill="white"/><path clip-path="url(#c57)" d="M784.40 1650.40L846.00 1590.83M784.40 1668.00L846.00 1608.43M784.40 1685.60L846.00 1626.03M784.40 1703.20L846.00 1643.63M784.40 1720.80L846.00 1661.23M784.40 1738.40L846.00 1678.83M784.40 1756.00L846.00 1696.43M784.40 1773.60L846.00 1714.03M784.40 1791.20L846.00 1731.63M784.40 1808.80L846.00 1749.23" stroke="#000" stroke-width="2.4" fill="none"/><rect x="784.40" y="1685.60" width="61.60" height="30.40" fill="none" stroke="#000" stroke-width="3.0" stroke-linejoin="round"/><text x="853.70" y="1710.20" font-size="27.6">0.01<tspan dx="2.5"> mg L</tspan><tspan font-size="18.8" dx="0" dy="-11.0">-<tspan dx="0.5">1</tspan></tspan></text><rect x="784.40" y="1723.80" width="61.60" height="30.40" fill="white"/><path clip-path="url(#c58)" d="M784.40 1618.20L846.00 1677.77M784.40 1635.80L846.00 1695.37M784.40 1653.40L846.00 1712.97M784.40 1671.00L846.00 1730.57M784.40 1688.60L846.00 1748.17M784.40 1706.20L846.00 1765.77M784.40 1723.80L846.00 1783.37M784.40 1741.40L846.00 1800.97M784.40 1759.00L846.00 1818.57M784.40 1776.60L846.00 1836.17" stroke="#000" stroke-width="2.4" fill="none"/><rect x="784.40" y="1723.80" width="61.60" height="30.40" fill="none" stroke="#000" stroke-width="3.0" stroke-linejoin="round"/><text x="853.70" y="1748.40" font-size="27.6">1<tspan dx="1.2"> mg L</tspan><tspan font-size="18.8" dx="0" dy="-11.0">-<tspan dx="0.5">1</tspan></tspan></text><rect x="784.40" y="1762.00" width="61.60" height="30.40" fill="white"/><path clip-path="url(#c59)" d="M784.40 1726.80L846.00 1667.23M784.40 1744.40L846.00 1684.83M784.40 1762.00L846.00 1702.43M784.40 1779.60L846.00 1720.03M784.40 1797.20L846.00 1737.63M784.40 1814.80L846.00 1755.23M784.40 1832.40L846.00 1772.83M784.40 1850.00L846.00 1790.43M784.40 1867.60L846.00 1808.03M784.40 1885.20L846.00 1825.63M784.40 1656.40L846.00 1715.97M784.40 1674.00L846.00 1733.57M784.40 1691.60L846.00 1751.17M784.40 1709.20L846.00 1768.77M784.40 1726.80L846.00 1786.37M784.40 1744.40L846.00 1803.97M784.40 1762.00L846.00 1821.57M784.40 1779.60L846.00 1839.17M784.40 1797.20L846.00 1856.77M784.40 1814.80L846.00 1874.37" stroke="#000" stroke-width="2.4" fill="none"/><rect x="784.40" y="1762.00" width="61.60" height="30.40" fill="none" stroke="#000" stroke-width="3.0" stroke-linejoin="round"/><text x="853.70" y="1786.60" font-size="27.6">2<tspan dx="1.2"> mg L</tspan><tspan font-size="18.8" dx="0" dy="-11.0">-<tspan dx="0.5">1</tspan></tspan></text><rect x="784.40" y="1800.20" width="61.60" height="30.40" fill="white"/><path clip-path="url(#c60)" d="M784.40 1812.92H846.00M784.40 1825.64H846.00M784.40 1838.36H846.00" stroke="#000" stroke-width="2.4" fill="none"/><rect x="784.40" y="1800.20" width="61.60" height="30.40" fill="none" stroke="#000" stroke-width="3.0" stroke-linejoin="round"/><text x="853.70" y="1824.80" font-size="27.6">4<tspan dx="1.2"> mg L</tspan><tspan font-size="18.8" dx="0" dy="-11.0">-<tspan dx="0.5">1</tspan></tspan></text></svg></body></html>
